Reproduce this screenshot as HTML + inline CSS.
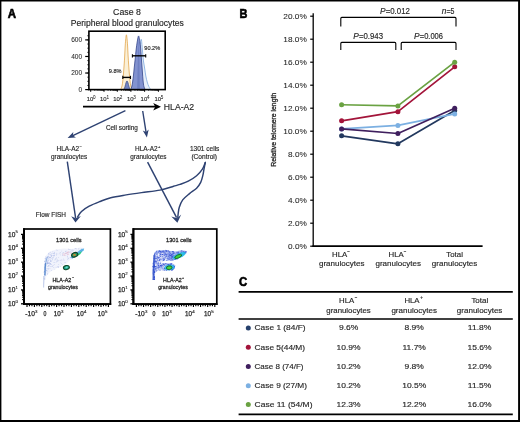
<!DOCTYPE html>
<html><head><meta charset="utf-8"><style>
html,body{margin:0;padding:0;background:#fff;}
body{width:520px;height:422px;overflow:hidden;}
svg{display:block;will-change:transform;font-family:"Liberation Sans",sans-serif;}
</style></head><body>
<svg width="520" height="422" viewBox="0 0 520 422">
<rect width="520" height="422" fill="#fff"/>
<rect x="0.00" y="0.00" width="520.00" height="1.50" fill="#000" />
<rect x="0.00" y="0.00" width="1.40" height="422.00" fill="#000" />
<rect x="518.10" y="0.00" width="1.90" height="422.00" fill="#000" />
<rect x="0.00" y="420.00" width="520.00" height="2.00" fill="#000" />
<text x="7.70" y="17.80" font-size="12" fill="#000" stroke="#000" stroke-width="0.6" textLength="8.30" lengthAdjust="spacingAndGlyphs" font-weight="bold" >A</text>
<text x="113.10" y="14.90" font-size="9" fill="#262626" stroke="#262626" stroke-width="0.15" textLength="27.80" lengthAdjust="spacingAndGlyphs" >Case 8</text>
<text x="70.80" y="25.90" font-size="8.7" fill="#262626" stroke="#262626" stroke-width="0.15" textLength="113.00" lengthAdjust="spacingAndGlyphs" >Peripheral blood granulocytes</text>
<path d="M120.60,89.60 C120.83,89.00 121.62,87.60 122.00,86.00 C122.38,84.40 122.63,82.33 122.90,80.00 C123.17,77.67 123.38,74.67 123.60,72.00 C123.82,69.33 124.02,66.67 124.20,64.00 C124.38,61.33 124.53,59.00 124.70,56.00 C124.87,53.00 125.02,48.92 125.20,46.00 C125.38,43.08 125.60,40.37 125.80,38.50 C126.00,36.63 126.20,34.80 126.40,34.80 C126.60,34.80 126.80,36.63 127.00,38.50 C127.20,40.37 127.42,43.08 127.60,46.00 C127.78,48.92 127.93,53.00 128.10,56.00 C128.27,59.00 128.42,61.33 128.60,64.00 C128.78,66.67 128.98,69.33 129.20,72.00 C129.42,74.67 129.63,77.67 129.90,80.00 C130.17,82.33 130.42,84.40 130.80,86.00 C131.18,87.60 131.97,89.00 132.20,89.60 Z" fill="#fbeed2" fill-opacity="0.9" stroke="#e4aa55" stroke-width="0.85"/>
<path d="M132.50,89.60 C132.78,88.33 133.65,84.93 134.20,82.00 C134.75,79.07 135.27,75.33 135.80,72.00 C136.33,68.67 136.87,65.50 137.40,62.00 C137.93,58.50 138.52,54.17 139.00,51.00 C139.48,47.83 139.92,44.95 140.30,43.00 C140.68,41.05 141.03,39.05 141.30,39.30 C141.57,39.55 141.70,42.55 141.90,44.50 C142.10,46.45 142.27,48.42 142.50,51.00 C142.73,53.58 142.95,57.17 143.30,60.00 C143.65,62.83 144.18,65.33 144.60,68.00 C145.02,70.67 145.37,73.67 145.80,76.00 C146.23,78.33 146.70,80.25 147.20,82.00 C147.70,83.75 148.20,85.23 148.80,86.50 C149.40,87.77 150.47,89.08 150.80,89.60 Z" fill="#e4edf9" fill-opacity="0.9" stroke="#94b8e4" stroke-width="1.0"/>
<path d="M130.60,89.60 C130.78,89.17 131.37,88.27 131.70,87.00 C132.03,85.73 132.30,84.00 132.60,82.00 C132.90,80.00 133.22,77.50 133.50,75.00 C133.78,72.50 134.02,69.67 134.30,67.00 C134.58,64.33 134.90,61.83 135.20,59.00 C135.50,56.17 135.77,52.83 136.10,50.00 C136.43,47.17 136.78,44.35 137.20,42.00 C137.62,39.65 138.15,35.90 138.60,35.90 C139.05,35.90 139.57,39.98 139.90,42.00 C140.23,44.02 140.38,45.67 140.60,48.00 C140.82,50.33 141.00,53.33 141.20,56.00 C141.40,58.67 141.60,61.33 141.80,64.00 C142.00,66.67 142.20,69.33 142.40,72.00 C142.60,74.67 142.78,77.75 143.00,80.00 C143.22,82.25 143.37,83.90 143.70,85.50 C144.03,87.10 144.78,88.92 145.00,89.60 Z" fill="#8292d0" stroke="#34458a" stroke-width="0.8"/>
<path d="M137.2,89.6 L137.8,60 L138.6,40 L139.3,60 L139.8,89.6 Z" fill="#4a5ea8" fill-opacity="0.35"/>
<path d="M123.80,89.60 C124.00,89.08 124.62,87.68 125.00,86.50 C125.38,85.32 125.77,83.43 126.10,82.50 C126.43,81.57 126.70,80.90 127.00,80.90 C127.30,80.90 127.57,81.57 127.90,82.50 C128.23,83.43 128.62,85.32 129.00,86.50 C129.38,87.68 130.00,89.08 130.20,89.60 Z" fill="#7284c4" stroke="#34457f" stroke-width="0.7"/>
<rect x="88.9" y="31.2" width="76.30" height="58.40" fill="none" stroke="#000" stroke-width="1.6"/>
<line x1="85.20" y1="89.60" x2="88.90" y2="89.60" stroke="#000" stroke-width="1.2" />
<line x1="85.20" y1="73.03" x2="88.90" y2="73.03" stroke="#000" stroke-width="1.2" />
<line x1="85.20" y1="56.47" x2="88.90" y2="56.47" stroke="#000" stroke-width="1.2" />
<line x1="85.20" y1="39.90" x2="88.90" y2="39.90" stroke="#000" stroke-width="1.2" />
<line x1="87.30" y1="89.60" x2="88.90" y2="89.60" stroke="#000" stroke-width="0.8" />
<line x1="87.30" y1="85.46" x2="88.90" y2="85.46" stroke="#000" stroke-width="0.8" />
<line x1="87.30" y1="81.32" x2="88.90" y2="81.32" stroke="#000" stroke-width="0.8" />
<line x1="87.30" y1="77.17" x2="88.90" y2="77.17" stroke="#000" stroke-width="0.8" />
<line x1="87.30" y1="73.03" x2="88.90" y2="73.03" stroke="#000" stroke-width="0.8" />
<line x1="87.30" y1="68.89" x2="88.90" y2="68.89" stroke="#000" stroke-width="0.8" />
<line x1="87.30" y1="64.75" x2="88.90" y2="64.75" stroke="#000" stroke-width="0.8" />
<line x1="87.30" y1="60.61" x2="88.90" y2="60.61" stroke="#000" stroke-width="0.8" />
<line x1="87.30" y1="56.47" x2="88.90" y2="56.47" stroke="#000" stroke-width="0.8" />
<line x1="87.30" y1="52.33" x2="88.90" y2="52.33" stroke="#000" stroke-width="0.8" />
<line x1="87.30" y1="48.18" x2="88.90" y2="48.18" stroke="#000" stroke-width="0.8" />
<line x1="87.30" y1="44.04" x2="88.90" y2="44.04" stroke="#000" stroke-width="0.8" />
<line x1="87.30" y1="39.90" x2="88.90" y2="39.90" stroke="#000" stroke-width="0.8" />
<line x1="87.30" y1="35.76" x2="88.90" y2="35.76" stroke="#000" stroke-width="0.8" />
<text x="71.19" y="42.20" font-size="6.6" fill="#262626" stroke="#262626" stroke-width="0.05" >600</text>
<text x="71.19" y="58.77" font-size="6.6" fill="#262626" stroke="#262626" stroke-width="0.05" >400</text>
<text x="71.19" y="75.33" font-size="6.6" fill="#262626" stroke="#262626" stroke-width="0.05" >200</text>
<text x="78.53" y="91.90" font-size="6.6" fill="#262626" stroke="#262626" stroke-width="0.05" >0</text>
<line x1="90.70" y1="89.60" x2="90.70" y2="91.80" stroke="#000" stroke-width="1.0" />
<line x1="94.79" y1="89.60" x2="94.79" y2="90.90" stroke="#000" stroke-width="0.7" />
<line x1="97.19" y1="89.60" x2="97.19" y2="90.90" stroke="#000" stroke-width="0.7" />
<line x1="98.89" y1="89.60" x2="98.89" y2="90.90" stroke="#000" stroke-width="0.7" />
<line x1="100.21" y1="89.60" x2="100.21" y2="90.90" stroke="#000" stroke-width="0.7" />
<line x1="101.28" y1="89.60" x2="101.28" y2="90.90" stroke="#000" stroke-width="0.7" />
<line x1="102.19" y1="89.60" x2="102.19" y2="90.90" stroke="#000" stroke-width="0.7" />
<line x1="102.98" y1="89.60" x2="102.98" y2="90.90" stroke="#000" stroke-width="0.7" />
<line x1="103.68" y1="89.60" x2="103.68" y2="90.90" stroke="#000" stroke-width="0.7" />
<text x="86.70" y="101.30" font-size="6.2" fill="#262626" stroke="#262626" stroke-width="0.12" textLength="6.60" lengthAdjust="spacingAndGlyphs" >10</text>
<text x="93.10" y="98.50" font-size="4.6" fill="#262626" stroke="#262626" stroke-width="0.05" >0</text>
<line x1="104.00" y1="89.60" x2="104.00" y2="91.80" stroke="#000" stroke-width="1.0" />
<line x1="108.09" y1="89.60" x2="108.09" y2="90.90" stroke="#000" stroke-width="0.7" />
<line x1="110.49" y1="89.60" x2="110.49" y2="90.90" stroke="#000" stroke-width="0.7" />
<line x1="112.19" y1="89.60" x2="112.19" y2="90.90" stroke="#000" stroke-width="0.7" />
<line x1="113.51" y1="89.60" x2="113.51" y2="90.90" stroke="#000" stroke-width="0.7" />
<line x1="114.58" y1="89.60" x2="114.58" y2="90.90" stroke="#000" stroke-width="0.7" />
<line x1="115.49" y1="89.60" x2="115.49" y2="90.90" stroke="#000" stroke-width="0.7" />
<line x1="116.28" y1="89.60" x2="116.28" y2="90.90" stroke="#000" stroke-width="0.7" />
<line x1="116.98" y1="89.60" x2="116.98" y2="90.90" stroke="#000" stroke-width="0.7" />
<text x="100.00" y="101.30" font-size="6.2" fill="#262626" stroke="#262626" stroke-width="0.12" textLength="6.60" lengthAdjust="spacingAndGlyphs" >10</text>
<text x="106.40" y="98.50" font-size="4.6" fill="#262626" stroke="#262626" stroke-width="0.05" >1</text>
<line x1="117.30" y1="89.60" x2="117.30" y2="91.80" stroke="#000" stroke-width="1.0" />
<line x1="121.39" y1="89.60" x2="121.39" y2="90.90" stroke="#000" stroke-width="0.7" />
<line x1="123.79" y1="89.60" x2="123.79" y2="90.90" stroke="#000" stroke-width="0.7" />
<line x1="125.49" y1="89.60" x2="125.49" y2="90.90" stroke="#000" stroke-width="0.7" />
<line x1="126.81" y1="89.60" x2="126.81" y2="90.90" stroke="#000" stroke-width="0.7" />
<line x1="127.88" y1="89.60" x2="127.88" y2="90.90" stroke="#000" stroke-width="0.7" />
<line x1="128.79" y1="89.60" x2="128.79" y2="90.90" stroke="#000" stroke-width="0.7" />
<line x1="129.58" y1="89.60" x2="129.58" y2="90.90" stroke="#000" stroke-width="0.7" />
<line x1="130.28" y1="89.60" x2="130.28" y2="90.90" stroke="#000" stroke-width="0.7" />
<text x="113.30" y="101.30" font-size="6.2" fill="#262626" stroke="#262626" stroke-width="0.12" textLength="6.60" lengthAdjust="spacingAndGlyphs" >10</text>
<text x="119.70" y="98.50" font-size="4.6" fill="#262626" stroke="#262626" stroke-width="0.05" >2</text>
<line x1="130.90" y1="89.60" x2="130.90" y2="91.80" stroke="#000" stroke-width="1.0" />
<line x1="134.99" y1="89.60" x2="134.99" y2="90.90" stroke="#000" stroke-width="0.7" />
<line x1="137.39" y1="89.60" x2="137.39" y2="90.90" stroke="#000" stroke-width="0.7" />
<line x1="139.09" y1="89.60" x2="139.09" y2="90.90" stroke="#000" stroke-width="0.7" />
<line x1="140.41" y1="89.60" x2="140.41" y2="90.90" stroke="#000" stroke-width="0.7" />
<line x1="141.48" y1="89.60" x2="141.48" y2="90.90" stroke="#000" stroke-width="0.7" />
<line x1="142.39" y1="89.60" x2="142.39" y2="90.90" stroke="#000" stroke-width="0.7" />
<line x1="143.18" y1="89.60" x2="143.18" y2="90.90" stroke="#000" stroke-width="0.7" />
<line x1="143.88" y1="89.60" x2="143.88" y2="90.90" stroke="#000" stroke-width="0.7" />
<text x="126.90" y="101.30" font-size="6.2" fill="#262626" stroke="#262626" stroke-width="0.12" textLength="6.60" lengthAdjust="spacingAndGlyphs" >10</text>
<text x="133.30" y="98.50" font-size="4.6" fill="#262626" stroke="#262626" stroke-width="0.05" >3</text>
<line x1="144.60" y1="89.60" x2="144.60" y2="91.80" stroke="#000" stroke-width="1.0" />
<line x1="148.69" y1="89.60" x2="148.69" y2="90.90" stroke="#000" stroke-width="0.7" />
<line x1="151.09" y1="89.60" x2="151.09" y2="90.90" stroke="#000" stroke-width="0.7" />
<line x1="152.79" y1="89.60" x2="152.79" y2="90.90" stroke="#000" stroke-width="0.7" />
<line x1="154.11" y1="89.60" x2="154.11" y2="90.90" stroke="#000" stroke-width="0.7" />
<line x1="155.18" y1="89.60" x2="155.18" y2="90.90" stroke="#000" stroke-width="0.7" />
<line x1="156.09" y1="89.60" x2="156.09" y2="90.90" stroke="#000" stroke-width="0.7" />
<line x1="156.88" y1="89.60" x2="156.88" y2="90.90" stroke="#000" stroke-width="0.7" />
<line x1="157.58" y1="89.60" x2="157.58" y2="90.90" stroke="#000" stroke-width="0.7" />
<text x="140.60" y="101.30" font-size="6.2" fill="#262626" stroke="#262626" stroke-width="0.12" textLength="6.60" lengthAdjust="spacingAndGlyphs" >10</text>
<text x="147.00" y="98.50" font-size="4.6" fill="#262626" stroke="#262626" stroke-width="0.05" >4</text>
<line x1="158.40" y1="89.60" x2="158.40" y2="91.80" stroke="#000" stroke-width="1.0" />
<text x="154.40" y="101.30" font-size="6.2" fill="#262626" stroke="#262626" stroke-width="0.12" textLength="6.60" lengthAdjust="spacingAndGlyphs" >10</text>
<text x="160.80" y="98.50" font-size="4.6" fill="#262626" stroke="#262626" stroke-width="0.05" >5</text>
<line x1="122.80" y1="77.40" x2="130.50" y2="77.40" stroke="#000" stroke-width="1.4" />
<line x1="122.80" y1="75.80" x2="122.80" y2="79.00" stroke="#000" stroke-width="1.1" />
<line x1="130.50" y1="75.80" x2="130.50" y2="79.00" stroke="#000" stroke-width="1.1" />
<line x1="132.40" y1="55.80" x2="145.70" y2="55.80" stroke="#000" stroke-width="1.4" />
<line x1="132.40" y1="54.20" x2="132.40" y2="57.40" stroke="#000" stroke-width="1.1" />
<line x1="145.70" y1="54.20" x2="145.70" y2="57.40" stroke="#000" stroke-width="1.1" />
<text x="108.80" y="72.80" font-size="5.8" fill="#262626" stroke="#262626" stroke-width="0.15" textLength="12.70" lengthAdjust="spacingAndGlyphs" >9.8%</text>
<text x="144.30" y="49.80" font-size="5.8" fill="#262626" stroke="#262626" stroke-width="0.15" textLength="15.90" lengthAdjust="spacingAndGlyphs" >90.2%</text>
<line x1="83.00" y1="106.70" x2="156.00" y2="106.70" stroke="#000" stroke-width="1.7" />
<path d="M161.0,106.7 L153.2,102.9 L155.2,106.7 L153.2,110.5 Z" fill="#000"/>
<text x="163.80" y="109.60" font-size="8.7" fill="#262626" stroke="#262626" stroke-width="0.15" textLength="30.40" lengthAdjust="spacingAndGlyphs" >HLA-A2</text>
<path d="M67.60,138.10 L73.32,131.96 L72.84,135.62 L75.98,137.56 Z" fill="#2e4272"/>
<line x1="125.40" y1="110.70" x2="72.84" y2="135.62" stroke="#2e4272" stroke-width="1.4" />
<path d="M146.90,137.50 L142.76,130.56 L146.04,132.07 L148.69,129.62 Z" fill="#2e4272"/>
<line x1="142.70" y1="111.00" x2="146.04" y2="132.07" stroke="#2e4272" stroke-width="1.4" />
<text x="105.90" y="130.10" font-size="6.6" fill="#262626" stroke="#262626" stroke-width="0.15" textLength="32.00" lengthAdjust="spacingAndGlyphs" >Cell sorting</text>
<text x="56.50" y="150.60" font-size="6.5" fill="#262626" stroke="#262626" stroke-width="0.15" textLength="22.60" lengthAdjust="spacingAndGlyphs" >HLA-A2</text>
<text x="79.60" y="147.60" font-size="4.0" fill="#262626" stroke="#262626" stroke-width="0.15" >−</text>
<text x="51.00" y="158.50" font-size="6.5" fill="#262626" stroke="#262626" stroke-width="0.15" textLength="36.30" lengthAdjust="spacingAndGlyphs" >granulocytes</text>
<text x="135.00" y="150.60" font-size="6.5" fill="#262626" stroke="#262626" stroke-width="0.15" textLength="22.60" lengthAdjust="spacingAndGlyphs" >HLA-A2</text>
<text x="157.90" y="147.60" font-size="4.0" fill="#262626" stroke="#262626" stroke-width="0.15" >+</text>
<text x="130.30" y="158.50" font-size="6.5" fill="#262626" stroke="#262626" stroke-width="0.15" textLength="36.20" lengthAdjust="spacingAndGlyphs" >granulocytes</text>
<text x="189.90" y="150.90" font-size="6.5" fill="#262626" stroke="#262626" stroke-width="0.15" textLength="29.50" lengthAdjust="spacingAndGlyphs" >1301 cells</text>
<text x="191.40" y="158.80" font-size="6.5" fill="#262626" stroke="#262626" stroke-width="0.15" textLength="25.60" lengthAdjust="spacingAndGlyphs" >(Control)</text>
<path d="M75.5,222.6 L71.2,216.2 L75.8,218.3 L80.9,215.9 Z" fill="#2e4272"/>
<line x1="67.30" y1="161.70" x2="75.60" y2="218.00" stroke="#2e4272" stroke-width="1.45" />
<path d="M177.4,222.7 L171.3,216.6 L177.2,218.2 L181.2,214.5 Z" fill="#2e4272"/>
<line x1="147.60" y1="162.20" x2="176.60" y2="217.60" stroke="#2e4272" stroke-width="1.45" />
<path d="M205.30,162.50 C204.82,163.60 203.85,166.90 202.40,169.10 C200.95,171.30 198.95,173.70 196.60,175.70 C194.25,177.70 191.07,179.65 188.30,181.10 C185.53,182.55 182.45,183.53 180.00,184.40 C177.55,185.27 176.93,185.35 173.60,186.30 C170.27,187.25 165.35,189.05 160.00,190.10 C154.65,191.15 147.13,191.80 141.50,192.60 C135.87,193.40 131.32,194.05 126.20,194.90 C121.08,195.75 115.17,196.60 110.80,197.70 C106.43,198.80 103.60,200.08 100.00,201.50 C96.40,202.92 92.28,204.53 89.20,206.20 C86.12,207.87 83.43,209.70 81.50,211.50 C79.57,213.30 78.25,216.08 77.60,217.00" fill="none" stroke="#2e4272" stroke-width="1.45" stroke-linecap="round"/>
<path d="M205.30,162.50 C205.08,163.60 204.42,166.90 204.00,169.10 C203.58,171.30 203.35,173.48 202.80,175.70 C202.25,177.92 201.73,180.32 200.70,182.40 C199.67,184.48 198.47,186.33 196.60,188.20 C194.73,190.07 191.82,191.65 189.50,193.60 C187.18,195.55 184.40,197.62 182.70,199.90 C181.00,202.18 180.05,205.03 179.30,207.30 C178.55,209.57 178.45,211.80 178.20,213.50 C177.95,215.20 177.87,216.83 177.80,217.50" fill="none" stroke="#2e4272" stroke-width="1.45" stroke-linecap="round"/>
<text x="35.80" y="217.10" font-size="6.6" fill="#262626" stroke="#262626" stroke-width="0.15" textLength="30.20" lengthAdjust="spacingAndGlyphs" >Flow FISH</text>
<rect x="24.0" y="229.0" width="86.40" height="75.10" fill="none" stroke="#000" stroke-width="1.7"/>
<line x1="24.00" y1="228.20" x2="24.00" y2="304.90" stroke="#000" stroke-width="2.0" />
<line x1="23.20" y1="304.10" x2="111.20" y2="304.10" stroke="#000" stroke-width="1.9" />
<line x1="21.00" y1="234.40" x2="24.00" y2="234.40" stroke="#000" stroke-width="1.3" />
<text x="8.00" y="236.50" font-size="6.4" fill="#262626" stroke="#262626" stroke-width="0.25" textLength="7.30" lengthAdjust="spacingAndGlyphs" >10</text>
<text x="15.40" y="233.30" font-size="4.4" fill="#262626" stroke="#262626" stroke-width="0.12" >5</text>
<line x1="21.00" y1="248.28" x2="24.00" y2="248.28" stroke="#000" stroke-width="1.3" />
<text x="8.00" y="250.38" font-size="6.4" fill="#262626" stroke="#262626" stroke-width="0.25" textLength="7.30" lengthAdjust="spacingAndGlyphs" >10</text>
<text x="15.40" y="247.18" font-size="4.4" fill="#262626" stroke="#262626" stroke-width="0.12" >4</text>
<line x1="21.00" y1="262.16" x2="24.00" y2="262.16" stroke="#000" stroke-width="1.3" />
<text x="8.00" y="264.26" font-size="6.4" fill="#262626" stroke="#262626" stroke-width="0.25" textLength="7.30" lengthAdjust="spacingAndGlyphs" >10</text>
<text x="15.40" y="261.06" font-size="4.4" fill="#262626" stroke="#262626" stroke-width="0.12" >3</text>
<line x1="21.00" y1="276.04" x2="24.00" y2="276.04" stroke="#000" stroke-width="1.3" />
<text x="8.00" y="278.14" font-size="6.4" fill="#262626" stroke="#262626" stroke-width="0.25" textLength="7.30" lengthAdjust="spacingAndGlyphs" >10</text>
<text x="15.40" y="274.94" font-size="4.4" fill="#262626" stroke="#262626" stroke-width="0.12" >2</text>
<line x1="21.00" y1="289.92" x2="24.00" y2="289.92" stroke="#000" stroke-width="1.3" />
<text x="8.00" y="292.02" font-size="6.4" fill="#262626" stroke="#262626" stroke-width="0.25" textLength="7.30" lengthAdjust="spacingAndGlyphs" >10</text>
<text x="15.40" y="288.82" font-size="4.4" fill="#262626" stroke="#262626" stroke-width="0.12" >1</text>
<line x1="21.00" y1="303.80" x2="24.00" y2="303.80" stroke="#000" stroke-width="1.3" />
<text x="8.00" y="305.90" font-size="6.4" fill="#262626" stroke="#262626" stroke-width="0.25" textLength="7.30" lengthAdjust="spacingAndGlyphs" >10</text>
<text x="15.40" y="302.70" font-size="4.4" fill="#262626" stroke="#262626" stroke-width="0.12" >0</text>
<line x1="22.00" y1="244.10" x2="24.00" y2="244.10" stroke="#000" stroke-width="1.0" />
<line x1="22.00" y1="241.66" x2="24.00" y2="241.66" stroke="#000" stroke-width="1.0" />
<line x1="22.00" y1="239.92" x2="24.00" y2="239.92" stroke="#000" stroke-width="1.0" />
<line x1="22.00" y1="238.58" x2="24.00" y2="238.58" stroke="#000" stroke-width="1.0" />
<line x1="22.00" y1="237.48" x2="24.00" y2="237.48" stroke="#000" stroke-width="1.0" />
<line x1="22.00" y1="236.55" x2="24.00" y2="236.55" stroke="#000" stroke-width="1.0" />
<line x1="22.00" y1="235.75" x2="24.00" y2="235.75" stroke="#000" stroke-width="1.0" />
<line x1="22.00" y1="235.04" x2="24.00" y2="235.04" stroke="#000" stroke-width="1.0" />
<line x1="22.00" y1="257.98" x2="24.00" y2="257.98" stroke="#000" stroke-width="1.0" />
<line x1="22.00" y1="255.54" x2="24.00" y2="255.54" stroke="#000" stroke-width="1.0" />
<line x1="22.00" y1="253.80" x2="24.00" y2="253.80" stroke="#000" stroke-width="1.0" />
<line x1="22.00" y1="252.46" x2="24.00" y2="252.46" stroke="#000" stroke-width="1.0" />
<line x1="22.00" y1="251.36" x2="24.00" y2="251.36" stroke="#000" stroke-width="1.0" />
<line x1="22.00" y1="250.43" x2="24.00" y2="250.43" stroke="#000" stroke-width="1.0" />
<line x1="22.00" y1="249.63" x2="24.00" y2="249.63" stroke="#000" stroke-width="1.0" />
<line x1="22.00" y1="248.92" x2="24.00" y2="248.92" stroke="#000" stroke-width="1.0" />
<line x1="22.00" y1="271.86" x2="24.00" y2="271.86" stroke="#000" stroke-width="1.0" />
<line x1="22.00" y1="269.42" x2="24.00" y2="269.42" stroke="#000" stroke-width="1.0" />
<line x1="22.00" y1="267.68" x2="24.00" y2="267.68" stroke="#000" stroke-width="1.0" />
<line x1="22.00" y1="266.34" x2="24.00" y2="266.34" stroke="#000" stroke-width="1.0" />
<line x1="22.00" y1="265.24" x2="24.00" y2="265.24" stroke="#000" stroke-width="1.0" />
<line x1="22.00" y1="264.31" x2="24.00" y2="264.31" stroke="#000" stroke-width="1.0" />
<line x1="22.00" y1="263.51" x2="24.00" y2="263.51" stroke="#000" stroke-width="1.0" />
<line x1="22.00" y1="262.80" x2="24.00" y2="262.80" stroke="#000" stroke-width="1.0" />
<line x1="22.00" y1="285.74" x2="24.00" y2="285.74" stroke="#000" stroke-width="1.0" />
<line x1="22.00" y1="283.30" x2="24.00" y2="283.30" stroke="#000" stroke-width="1.0" />
<line x1="22.00" y1="281.56" x2="24.00" y2="281.56" stroke="#000" stroke-width="1.0" />
<line x1="22.00" y1="280.22" x2="24.00" y2="280.22" stroke="#000" stroke-width="1.0" />
<line x1="22.00" y1="279.12" x2="24.00" y2="279.12" stroke="#000" stroke-width="1.0" />
<line x1="22.00" y1="278.19" x2="24.00" y2="278.19" stroke="#000" stroke-width="1.0" />
<line x1="22.00" y1="277.39" x2="24.00" y2="277.39" stroke="#000" stroke-width="1.0" />
<line x1="22.00" y1="276.68" x2="24.00" y2="276.68" stroke="#000" stroke-width="1.0" />
<line x1="22.00" y1="299.62" x2="24.00" y2="299.62" stroke="#000" stroke-width="1.0" />
<line x1="22.00" y1="297.18" x2="24.00" y2="297.18" stroke="#000" stroke-width="1.0" />
<line x1="22.00" y1="295.44" x2="24.00" y2="295.44" stroke="#000" stroke-width="1.0" />
<line x1="22.00" y1="294.10" x2="24.00" y2="294.10" stroke="#000" stroke-width="1.0" />
<line x1="22.00" y1="293.00" x2="24.00" y2="293.00" stroke="#000" stroke-width="1.0" />
<line x1="22.00" y1="292.07" x2="24.00" y2="292.07" stroke="#000" stroke-width="1.0" />
<line x1="22.00" y1="291.27" x2="24.00" y2="291.27" stroke="#000" stroke-width="1.0" />
<line x1="22.00" y1="290.56" x2="24.00" y2="290.56" stroke="#000" stroke-width="1.0" />
<line x1="27.00" y1="304.10" x2="27.00" y2="307.00" stroke="#000" stroke-width="1.15" />
<line x1="29.47" y1="304.10" x2="29.47" y2="306.30" stroke="#000" stroke-width="1.15" />
<line x1="31.93" y1="304.10" x2="31.93" y2="306.30" stroke="#000" stroke-width="1.15" />
<line x1="34.40" y1="304.10" x2="34.40" y2="307.00" stroke="#000" stroke-width="1.15" />
<line x1="36.87" y1="304.10" x2="36.87" y2="306.30" stroke="#000" stroke-width="1.15" />
<line x1="39.33" y1="304.10" x2="39.33" y2="306.30" stroke="#000" stroke-width="1.15" />
<line x1="41.80" y1="304.10" x2="41.80" y2="307.00" stroke="#000" stroke-width="1.15" />
<line x1="44.27" y1="304.10" x2="44.27" y2="306.30" stroke="#000" stroke-width="1.15" />
<line x1="46.73" y1="304.10" x2="46.73" y2="306.30" stroke="#000" stroke-width="1.15" />
<line x1="49.20" y1="304.10" x2="49.20" y2="307.00" stroke="#000" stroke-width="1.15" />
<line x1="51.67" y1="304.10" x2="51.67" y2="306.30" stroke="#000" stroke-width="1.15" />
<line x1="54.13" y1="304.10" x2="54.13" y2="306.30" stroke="#000" stroke-width="1.15" />
<line x1="56.60" y1="304.10" x2="56.60" y2="307.00" stroke="#000" stroke-width="1.15" />
<line x1="59.07" y1="304.10" x2="59.07" y2="306.30" stroke="#000" stroke-width="1.15" />
<line x1="61.53" y1="304.10" x2="61.53" y2="306.30" stroke="#000" stroke-width="1.15" />
<line x1="64.00" y1="304.10" x2="64.00" y2="307.00" stroke="#000" stroke-width="1.15" />
<line x1="66.47" y1="304.10" x2="66.47" y2="306.30" stroke="#000" stroke-width="1.15" />
<line x1="68.93" y1="304.10" x2="68.93" y2="306.30" stroke="#000" stroke-width="1.15" />
<line x1="71.40" y1="304.10" x2="71.40" y2="307.00" stroke="#000" stroke-width="1.15" />
<line x1="73.87" y1="304.10" x2="73.87" y2="306.30" stroke="#000" stroke-width="1.15" />
<line x1="76.33" y1="304.10" x2="76.33" y2="306.30" stroke="#000" stroke-width="1.15" />
<line x1="78.80" y1="304.10" x2="78.80" y2="307.00" stroke="#000" stroke-width="1.15" />
<line x1="81.27" y1="304.10" x2="81.27" y2="306.30" stroke="#000" stroke-width="1.15" />
<line x1="83.73" y1="304.10" x2="83.73" y2="306.30" stroke="#000" stroke-width="1.15" />
<line x1="86.20" y1="304.10" x2="86.20" y2="307.00" stroke="#000" stroke-width="1.15" />
<line x1="88.67" y1="304.10" x2="88.67" y2="306.30" stroke="#000" stroke-width="1.15" />
<line x1="91.13" y1="304.10" x2="91.13" y2="306.30" stroke="#000" stroke-width="1.15" />
<line x1="93.60" y1="304.10" x2="93.60" y2="307.00" stroke="#000" stroke-width="1.15" />
<line x1="96.07" y1="304.10" x2="96.07" y2="306.30" stroke="#000" stroke-width="1.15" />
<line x1="98.53" y1="304.10" x2="98.53" y2="306.30" stroke="#000" stroke-width="1.15" />
<line x1="101.00" y1="304.10" x2="101.00" y2="307.00" stroke="#000" stroke-width="1.15" />
<line x1="103.47" y1="304.10" x2="103.47" y2="306.30" stroke="#000" stroke-width="1.15" />
<line x1="105.93" y1="304.10" x2="105.93" y2="306.30" stroke="#000" stroke-width="1.15" />
<line x1="108.40" y1="304.10" x2="108.40" y2="307.00" stroke="#000" stroke-width="1.15" />
<text x="25.30" y="316.40" font-size="6.4" fill="#262626" stroke="#262626" stroke-width="0.25" textLength="9.60" lengthAdjust="spacingAndGlyphs" >-10</text>
<text x="35.10" y="313.20" font-size="4.4" fill="#262626" stroke="#262626" stroke-width="0.15" >3</text>
<text x="43.60" y="316.40" font-size="6.4" fill="#262626" stroke="#262626" stroke-width="0.25" textLength="2.90" lengthAdjust="spacingAndGlyphs" >0</text>
<text x="53.70" y="316.40" font-size="6.4" fill="#262626" stroke="#262626" stroke-width="0.25" textLength="7.00" lengthAdjust="spacingAndGlyphs" >10</text>
<text x="60.90" y="313.20" font-size="4.4" fill="#262626" stroke="#262626" stroke-width="0.15" >3</text>
<text x="76.80" y="316.40" font-size="6.4" fill="#262626" stroke="#262626" stroke-width="0.25" textLength="7.00" lengthAdjust="spacingAndGlyphs" >10</text>
<text x="84.00" y="313.20" font-size="4.4" fill="#262626" stroke="#262626" stroke-width="0.15" >4</text>
<text x="97.70" y="316.40" font-size="6.4" fill="#262626" stroke="#262626" stroke-width="0.25" textLength="7.00" lengthAdjust="spacingAndGlyphs" >10</text>
<text x="104.90" y="313.20" font-size="4.4" fill="#262626" stroke="#262626" stroke-width="0.15" >5</text>
<rect x="133.4" y="229.0" width="83.40" height="75.10" fill="none" stroke="#000" stroke-width="1.7"/>
<line x1="133.40" y1="228.20" x2="133.40" y2="304.90" stroke="#000" stroke-width="2.0" />
<line x1="132.60" y1="304.10" x2="217.60" y2="304.10" stroke="#000" stroke-width="1.9" />
<line x1="130.40" y1="234.40" x2="133.40" y2="234.40" stroke="#000" stroke-width="1.3" />
<text x="117.90" y="236.50" font-size="6.4" fill="#262626" stroke="#262626" stroke-width="0.25" textLength="7.30" lengthAdjust="spacingAndGlyphs" >10</text>
<text x="125.30" y="233.30" font-size="4.4" fill="#262626" stroke="#262626" stroke-width="0.12" >5</text>
<line x1="130.40" y1="248.28" x2="133.40" y2="248.28" stroke="#000" stroke-width="1.3" />
<text x="117.90" y="250.38" font-size="6.4" fill="#262626" stroke="#262626" stroke-width="0.25" textLength="7.30" lengthAdjust="spacingAndGlyphs" >10</text>
<text x="125.30" y="247.18" font-size="4.4" fill="#262626" stroke="#262626" stroke-width="0.12" >4</text>
<line x1="130.40" y1="262.16" x2="133.40" y2="262.16" stroke="#000" stroke-width="1.3" />
<text x="117.90" y="264.26" font-size="6.4" fill="#262626" stroke="#262626" stroke-width="0.25" textLength="7.30" lengthAdjust="spacingAndGlyphs" >10</text>
<text x="125.30" y="261.06" font-size="4.4" fill="#262626" stroke="#262626" stroke-width="0.12" >3</text>
<line x1="130.40" y1="276.04" x2="133.40" y2="276.04" stroke="#000" stroke-width="1.3" />
<text x="117.90" y="278.14" font-size="6.4" fill="#262626" stroke="#262626" stroke-width="0.25" textLength="7.30" lengthAdjust="spacingAndGlyphs" >10</text>
<text x="125.30" y="274.94" font-size="4.4" fill="#262626" stroke="#262626" stroke-width="0.12" >2</text>
<line x1="130.40" y1="289.92" x2="133.40" y2="289.92" stroke="#000" stroke-width="1.3" />
<text x="117.90" y="292.02" font-size="6.4" fill="#262626" stroke="#262626" stroke-width="0.25" textLength="7.30" lengthAdjust="spacingAndGlyphs" >10</text>
<text x="125.30" y="288.82" font-size="4.4" fill="#262626" stroke="#262626" stroke-width="0.12" >1</text>
<line x1="130.40" y1="303.80" x2="133.40" y2="303.80" stroke="#000" stroke-width="1.3" />
<text x="117.90" y="305.90" font-size="6.4" fill="#262626" stroke="#262626" stroke-width="0.25" textLength="7.30" lengthAdjust="spacingAndGlyphs" >10</text>
<text x="125.30" y="302.70" font-size="4.4" fill="#262626" stroke="#262626" stroke-width="0.12" >0</text>
<line x1="131.40" y1="244.10" x2="133.40" y2="244.10" stroke="#000" stroke-width="1.0" />
<line x1="131.40" y1="241.66" x2="133.40" y2="241.66" stroke="#000" stroke-width="1.0" />
<line x1="131.40" y1="239.92" x2="133.40" y2="239.92" stroke="#000" stroke-width="1.0" />
<line x1="131.40" y1="238.58" x2="133.40" y2="238.58" stroke="#000" stroke-width="1.0" />
<line x1="131.40" y1="237.48" x2="133.40" y2="237.48" stroke="#000" stroke-width="1.0" />
<line x1="131.40" y1="236.55" x2="133.40" y2="236.55" stroke="#000" stroke-width="1.0" />
<line x1="131.40" y1="235.75" x2="133.40" y2="235.75" stroke="#000" stroke-width="1.0" />
<line x1="131.40" y1="235.04" x2="133.40" y2="235.04" stroke="#000" stroke-width="1.0" />
<line x1="131.40" y1="257.98" x2="133.40" y2="257.98" stroke="#000" stroke-width="1.0" />
<line x1="131.40" y1="255.54" x2="133.40" y2="255.54" stroke="#000" stroke-width="1.0" />
<line x1="131.40" y1="253.80" x2="133.40" y2="253.80" stroke="#000" stroke-width="1.0" />
<line x1="131.40" y1="252.46" x2="133.40" y2="252.46" stroke="#000" stroke-width="1.0" />
<line x1="131.40" y1="251.36" x2="133.40" y2="251.36" stroke="#000" stroke-width="1.0" />
<line x1="131.40" y1="250.43" x2="133.40" y2="250.43" stroke="#000" stroke-width="1.0" />
<line x1="131.40" y1="249.63" x2="133.40" y2="249.63" stroke="#000" stroke-width="1.0" />
<line x1="131.40" y1="248.92" x2="133.40" y2="248.92" stroke="#000" stroke-width="1.0" />
<line x1="131.40" y1="271.86" x2="133.40" y2="271.86" stroke="#000" stroke-width="1.0" />
<line x1="131.40" y1="269.42" x2="133.40" y2="269.42" stroke="#000" stroke-width="1.0" />
<line x1="131.40" y1="267.68" x2="133.40" y2="267.68" stroke="#000" stroke-width="1.0" />
<line x1="131.40" y1="266.34" x2="133.40" y2="266.34" stroke="#000" stroke-width="1.0" />
<line x1="131.40" y1="265.24" x2="133.40" y2="265.24" stroke="#000" stroke-width="1.0" />
<line x1="131.40" y1="264.31" x2="133.40" y2="264.31" stroke="#000" stroke-width="1.0" />
<line x1="131.40" y1="263.51" x2="133.40" y2="263.51" stroke="#000" stroke-width="1.0" />
<line x1="131.40" y1="262.80" x2="133.40" y2="262.80" stroke="#000" stroke-width="1.0" />
<line x1="131.40" y1="285.74" x2="133.40" y2="285.74" stroke="#000" stroke-width="1.0" />
<line x1="131.40" y1="283.30" x2="133.40" y2="283.30" stroke="#000" stroke-width="1.0" />
<line x1="131.40" y1="281.56" x2="133.40" y2="281.56" stroke="#000" stroke-width="1.0" />
<line x1="131.40" y1="280.22" x2="133.40" y2="280.22" stroke="#000" stroke-width="1.0" />
<line x1="131.40" y1="279.12" x2="133.40" y2="279.12" stroke="#000" stroke-width="1.0" />
<line x1="131.40" y1="278.19" x2="133.40" y2="278.19" stroke="#000" stroke-width="1.0" />
<line x1="131.40" y1="277.39" x2="133.40" y2="277.39" stroke="#000" stroke-width="1.0" />
<line x1="131.40" y1="276.68" x2="133.40" y2="276.68" stroke="#000" stroke-width="1.0" />
<line x1="131.40" y1="299.62" x2="133.40" y2="299.62" stroke="#000" stroke-width="1.0" />
<line x1="131.40" y1="297.18" x2="133.40" y2="297.18" stroke="#000" stroke-width="1.0" />
<line x1="131.40" y1="295.44" x2="133.40" y2="295.44" stroke="#000" stroke-width="1.0" />
<line x1="131.40" y1="294.10" x2="133.40" y2="294.10" stroke="#000" stroke-width="1.0" />
<line x1="131.40" y1="293.00" x2="133.40" y2="293.00" stroke="#000" stroke-width="1.0" />
<line x1="131.40" y1="292.07" x2="133.40" y2="292.07" stroke="#000" stroke-width="1.0" />
<line x1="131.40" y1="291.27" x2="133.40" y2="291.27" stroke="#000" stroke-width="1.0" />
<line x1="131.40" y1="290.56" x2="133.40" y2="290.56" stroke="#000" stroke-width="1.0" />
<line x1="136.40" y1="304.10" x2="136.40" y2="307.00" stroke="#000" stroke-width="1.15" />
<line x1="138.78" y1="304.10" x2="138.78" y2="306.30" stroke="#000" stroke-width="1.15" />
<line x1="141.15" y1="304.10" x2="141.15" y2="306.30" stroke="#000" stroke-width="1.15" />
<line x1="143.53" y1="304.10" x2="143.53" y2="307.00" stroke="#000" stroke-width="1.15" />
<line x1="145.90" y1="304.10" x2="145.90" y2="306.30" stroke="#000" stroke-width="1.15" />
<line x1="148.28" y1="304.10" x2="148.28" y2="306.30" stroke="#000" stroke-width="1.15" />
<line x1="150.65" y1="304.10" x2="150.65" y2="307.00" stroke="#000" stroke-width="1.15" />
<line x1="153.03" y1="304.10" x2="153.03" y2="306.30" stroke="#000" stroke-width="1.15" />
<line x1="155.41" y1="304.10" x2="155.41" y2="306.30" stroke="#000" stroke-width="1.15" />
<line x1="157.78" y1="304.10" x2="157.78" y2="307.00" stroke="#000" stroke-width="1.15" />
<line x1="160.16" y1="304.10" x2="160.16" y2="306.30" stroke="#000" stroke-width="1.15" />
<line x1="162.53" y1="304.10" x2="162.53" y2="306.30" stroke="#000" stroke-width="1.15" />
<line x1="164.91" y1="304.10" x2="164.91" y2="307.00" stroke="#000" stroke-width="1.15" />
<line x1="167.28" y1="304.10" x2="167.28" y2="306.30" stroke="#000" stroke-width="1.15" />
<line x1="169.66" y1="304.10" x2="169.66" y2="306.30" stroke="#000" stroke-width="1.15" />
<line x1="172.04" y1="304.10" x2="172.04" y2="307.00" stroke="#000" stroke-width="1.15" />
<line x1="174.41" y1="304.10" x2="174.41" y2="306.30" stroke="#000" stroke-width="1.15" />
<line x1="176.79" y1="304.10" x2="176.79" y2="306.30" stroke="#000" stroke-width="1.15" />
<line x1="179.16" y1="304.10" x2="179.16" y2="307.00" stroke="#000" stroke-width="1.15" />
<line x1="181.54" y1="304.10" x2="181.54" y2="306.30" stroke="#000" stroke-width="1.15" />
<line x1="183.92" y1="304.10" x2="183.92" y2="306.30" stroke="#000" stroke-width="1.15" />
<line x1="186.29" y1="304.10" x2="186.29" y2="307.00" stroke="#000" stroke-width="1.15" />
<line x1="188.67" y1="304.10" x2="188.67" y2="306.30" stroke="#000" stroke-width="1.15" />
<line x1="191.04" y1="304.10" x2="191.04" y2="306.30" stroke="#000" stroke-width="1.15" />
<line x1="193.42" y1="304.10" x2="193.42" y2="307.00" stroke="#000" stroke-width="1.15" />
<line x1="195.79" y1="304.10" x2="195.79" y2="306.30" stroke="#000" stroke-width="1.15" />
<line x1="198.17" y1="304.10" x2="198.17" y2="306.30" stroke="#000" stroke-width="1.15" />
<line x1="200.55" y1="304.10" x2="200.55" y2="307.00" stroke="#000" stroke-width="1.15" />
<line x1="202.92" y1="304.10" x2="202.92" y2="306.30" stroke="#000" stroke-width="1.15" />
<line x1="205.30" y1="304.10" x2="205.30" y2="306.30" stroke="#000" stroke-width="1.15" />
<line x1="207.67" y1="304.10" x2="207.67" y2="307.00" stroke="#000" stroke-width="1.15" />
<line x1="210.05" y1="304.10" x2="210.05" y2="306.30" stroke="#000" stroke-width="1.15" />
<line x1="212.42" y1="304.10" x2="212.42" y2="306.30" stroke="#000" stroke-width="1.15" />
<line x1="214.80" y1="304.10" x2="214.80" y2="307.00" stroke="#000" stroke-width="1.15" />
<text x="135.20" y="316.40" font-size="6.4" fill="#262626" stroke="#262626" stroke-width="0.25" textLength="9.60" lengthAdjust="spacingAndGlyphs" >-10</text>
<text x="145.00" y="313.20" font-size="4.4" fill="#262626" stroke="#262626" stroke-width="0.15" >3</text>
<text x="152.60" y="316.40" font-size="6.4" fill="#262626" stroke="#262626" stroke-width="0.25" textLength="2.90" lengthAdjust="spacingAndGlyphs" >0</text>
<text x="162.00" y="316.40" font-size="6.4" fill="#262626" stroke="#262626" stroke-width="0.25" textLength="7.00" lengthAdjust="spacingAndGlyphs" >10</text>
<text x="169.20" y="313.20" font-size="4.4" fill="#262626" stroke="#262626" stroke-width="0.15" >3</text>
<text x="185.00" y="316.40" font-size="6.4" fill="#262626" stroke="#262626" stroke-width="0.25" textLength="7.00" lengthAdjust="spacingAndGlyphs" >10</text>
<text x="192.20" y="313.20" font-size="4.4" fill="#262626" stroke="#262626" stroke-width="0.15" >4</text>
<text x="204.00" y="316.40" font-size="6.4" fill="#262626" stroke="#262626" stroke-width="0.25" textLength="7.00" lengthAdjust="spacingAndGlyphs" >10</text>
<text x="211.20" y="313.20" font-size="4.4" fill="#262626" stroke="#262626" stroke-width="0.15" >5</text>
<path d="M43.80,280.00 L44.00,262.00 L46.00,255.50 L50.00,251.50 L56.00,249.50 L64.00,248.50 L72.00,249.00 L80.00,247.50 L84.00,248.00 L83.00,251.00 L77.00,255.50 L70.00,260.00 L66.00,264.00 L62.00,266.00 L56.00,268.50 L50.00,272.00 L46.50,276.00 L45.30,280.00 Z" fill="#c8d0f2" fill-opacity="0.25" />
<g fill="#8a9cde" fill-opacity="0.5"><circle cx="53.37" cy="265.19" r="0.4"/><circle cx="58.67" cy="267.13" r="0.4"/><circle cx="68.95" cy="249.63" r="0.4"/><circle cx="44.33" cy="274.72" r="0.4"/><circle cx="54.23" cy="255.12" r="0.4"/><circle cx="69.49" cy="252.40" r="0.4"/><circle cx="70.79" cy="249.58" r="0.4"/><circle cx="79.13" cy="250.67" r="0.4"/><circle cx="49.27" cy="254.55" r="0.4"/><circle cx="68.99" cy="257.28" r="0.4"/><circle cx="64.19" cy="260.04" r="0.4"/><circle cx="57.91" cy="266.51" r="0.4"/><circle cx="70.79" cy="252.80" r="0.4"/><circle cx="72.50" cy="254.36" r="0.4"/><circle cx="47.36" cy="273.52" r="0.4"/><circle cx="60.30" cy="252.40" r="0.4"/><circle cx="78.89" cy="248.94" r="0.4"/><circle cx="68.50" cy="248.96" r="0.4"/><circle cx="72.68" cy="258.26" r="0.4"/><circle cx="56.25" cy="250.00" r="0.4"/><circle cx="51.73" cy="260.76" r="0.4"/><circle cx="68.34" cy="252.58" r="0.4"/><circle cx="45.51" cy="275.70" r="0.4"/><circle cx="62.31" cy="264.40" r="0.4"/><circle cx="53.35" cy="257.29" r="0.4"/><circle cx="60.49" cy="266.35" r="0.4"/><circle cx="44.61" cy="267.51" r="0.4"/><circle cx="69.21" cy="249.45" r="0.4"/><circle cx="71.11" cy="258.96" r="0.4"/><circle cx="53.90" cy="262.33" r="0.4"/><circle cx="67.63" cy="257.90" r="0.4"/><circle cx="58.43" cy="257.66" r="0.4"/><circle cx="58.64" cy="266.86" r="0.4"/><circle cx="55.88" cy="259.76" r="0.4"/><circle cx="56.26" cy="254.73" r="0.4"/><circle cx="76.11" cy="255.26" r="0.4"/><circle cx="51.33" cy="261.65" r="0.4"/><circle cx="71.86" cy="250.81" r="0.4"/><circle cx="56.74" cy="258.35" r="0.4"/><circle cx="78.19" cy="253.00" r="0.4"/><circle cx="52.85" cy="251.43" r="0.4"/><circle cx="65.09" cy="253.70" r="0.4"/><circle cx="51.18" cy="256.55" r="0.4"/><circle cx="49.01" cy="256.99" r="0.4"/><circle cx="75.71" cy="256.31" r="0.4"/><circle cx="57.72" cy="261.05" r="0.4"/><circle cx="60.67" cy="260.81" r="0.4"/><circle cx="80.81" cy="252.57" r="0.4"/><circle cx="43.99" cy="278.16" r="0.4"/><circle cx="55.42" cy="258.58" r="0.4"/><circle cx="67.46" cy="256.83" r="0.4"/><circle cx="76.37" cy="248.96" r="0.4"/><circle cx="44.33" cy="271.72" r="0.4"/><circle cx="50.71" cy="257.25" r="0.4"/><circle cx="68.41" cy="258.59" r="0.4"/><circle cx="57.94" cy="253.91" r="0.4"/><circle cx="45.81" cy="256.32" r="0.4"/><circle cx="54.60" cy="264.64" r="0.4"/><circle cx="60.80" cy="262.87" r="0.4"/><circle cx="47.26" cy="263.82" r="0.4"/><circle cx="56.50" cy="257.72" r="0.4"/><circle cx="67.38" cy="259.23" r="0.4"/><circle cx="51.48" cy="258.19" r="0.4"/><circle cx="48.77" cy="265.55" r="0.4"/><circle cx="58.81" cy="267.14" r="0.4"/><circle cx="61.15" cy="259.60" r="0.4"/><circle cx="62.33" cy="255.47" r="0.4"/><circle cx="46.68" cy="261.31" r="0.4"/><circle cx="54.34" cy="262.58" r="0.4"/><circle cx="47.95" cy="266.60" r="0.4"/><circle cx="74.93" cy="248.94" r="0.4"/><circle cx="79.19" cy="253.32" r="0.4"/><circle cx="44.74" cy="274.85" r="0.4"/><circle cx="75.91" cy="248.68" r="0.4"/><circle cx="72.55" cy="250.97" r="0.4"/><circle cx="46.26" cy="258.04" r="0.4"/><circle cx="53.53" cy="253.34" r="0.4"/><circle cx="53.85" cy="267.52" r="0.4"/><circle cx="58.57" cy="260.39" r="0.4"/><circle cx="57.88" cy="261.09" r="0.4"/><circle cx="47.15" cy="263.76" r="0.4"/><circle cx="73.85" cy="252.72" r="0.4"/><circle cx="79.88" cy="252.35" r="0.4"/><circle cx="47.65" cy="271.82" r="0.4"/><circle cx="51.28" cy="256.19" r="0.4"/><circle cx="51.81" cy="266.53" r="0.4"/><circle cx="56.46" cy="255.05" r="0.4"/><circle cx="67.30" cy="256.18" r="0.4"/><circle cx="63.08" cy="259.94" r="0.4"/><circle cx="50.72" cy="259.22" r="0.4"/><circle cx="62.59" cy="254.96" r="0.4"/><circle cx="51.42" cy="255.91" r="0.4"/><circle cx="51.32" cy="270.40" r="0.4"/><circle cx="56.40" cy="261.26" r="0.4"/><circle cx="73.10" cy="250.29" r="0.4"/><circle cx="47.52" cy="274.60" r="0.4"/><circle cx="55.53" cy="259.09" r="0.4"/><circle cx="61.34" cy="263.29" r="0.4"/><circle cx="52.25" cy="266.52" r="0.4"/><circle cx="65.68" cy="251.37" r="0.4"/><circle cx="54.85" cy="269.13" r="0.4"/><circle cx="80.33" cy="250.65" r="0.4"/><circle cx="65.35" cy="251.18" r="0.4"/><circle cx="63.65" cy="258.95" r="0.4"/><circle cx="66.57" cy="253.41" r="0.4"/><circle cx="70.15" cy="251.50" r="0.4"/><circle cx="81.26" cy="252.09" r="0.4"/><circle cx="56.36" cy="253.23" r="0.4"/><circle cx="46.56" cy="270.76" r="0.4"/><circle cx="54.49" cy="259.96" r="0.4"/><circle cx="78.88" cy="248.87" r="0.4"/><circle cx="64.09" cy="255.53" r="0.4"/><circle cx="57.18" cy="260.61" r="0.4"/><circle cx="48.31" cy="256.29" r="0.4"/><circle cx="51.23" cy="253.65" r="0.4"/><circle cx="67.60" cy="252.26" r="0.4"/><circle cx="59.82" cy="253.79" r="0.4"/><circle cx="51.92" cy="255.63" r="0.4"/><circle cx="75.22" cy="248.48" r="0.4"/><circle cx="71.40" cy="257.23" r="0.4"/><circle cx="43.90" cy="272.54" r="0.4"/><circle cx="64.85" cy="262.47" r="0.4"/><circle cx="51.58" cy="264.71" r="0.4"/><circle cx="45.29" cy="263.76" r="0.4"/><circle cx="79.66" cy="251.91" r="0.4"/><circle cx="45.83" cy="259.20" r="0.4"/><circle cx="71.73" cy="251.87" r="0.4"/><circle cx="50.27" cy="263.66" r="0.4"/><circle cx="56.05" cy="262.59" r="0.4"/><circle cx="58.71" cy="264.70" r="0.4"/><circle cx="67.78" cy="254.78" r="0.4"/><circle cx="75.28" cy="252.16" r="0.4"/><circle cx="62.29" cy="253.85" r="0.4"/><circle cx="52.21" cy="253.05" r="0.4"/><circle cx="60.03" cy="252.97" r="0.4"/><circle cx="50.56" cy="263.43" r="0.4"/><circle cx="61.81" cy="260.75" r="0.4"/><circle cx="72.08" cy="249.16" r="0.4"/><circle cx="60.01" cy="260.39" r="0.4"/><circle cx="44.87" cy="278.88" r="0.4"/><circle cx="62.88" cy="252.85" r="0.4"/><circle cx="68.82" cy="258.76" r="0.4"/><circle cx="73.05" cy="256.44" r="0.4"/><circle cx="53.85" cy="256.14" r="0.4"/><circle cx="57.66" cy="250.55" r="0.4"/><circle cx="45.97" cy="268.77" r="0.4"/><circle cx="81.59" cy="248.61" r="0.4"/><circle cx="56.05" cy="267.23" r="0.4"/><circle cx="81.85" cy="250.35" r="0.4"/><circle cx="48.41" cy="260.17" r="0.4"/><circle cx="60.47" cy="254.96" r="0.4"/><circle cx="54.63" cy="253.02" r="0.4"/><circle cx="63.38" cy="252.50" r="0.4"/><circle cx="71.03" cy="250.66" r="0.4"/><circle cx="57.22" cy="259.53" r="0.4"/><circle cx="46.70" cy="260.48" r="0.4"/><circle cx="82.22" cy="250.91" r="0.4"/><circle cx="66.67" cy="251.08" r="0.4"/><circle cx="47.05" cy="268.60" r="0.4"/><circle cx="49.94" cy="268.45" r="0.4"/><circle cx="52.65" cy="265.78" r="0.4"/><circle cx="65.32" cy="253.62" r="0.4"/><circle cx="76.99" cy="251.16" r="0.4"/><circle cx="44.76" cy="278.91" r="0.4"/><circle cx="47.25" cy="262.62" r="0.4"/><circle cx="57.71" cy="267.10" r="0.4"/><circle cx="61.71" cy="251.11" r="0.4"/><circle cx="76.56" cy="254.19" r="0.4"/><circle cx="65.48" cy="262.59" r="0.4"/><circle cx="73.07" cy="250.01" r="0.4"/></g>
<g fill="#7f95dc" fill-opacity="0.55"><circle cx="48.15" cy="262.63" r="0.45"/><circle cx="44.86" cy="264.26" r="0.45"/><circle cx="46.57" cy="259.41" r="0.45"/><circle cx="49.17" cy="253.02" r="0.45"/><circle cx="50.43" cy="261.05" r="0.45"/><circle cx="52.67" cy="258.06" r="0.45"/><circle cx="50.23" cy="266.34" r="0.45"/><circle cx="44.49" cy="268.88" r="0.45"/><circle cx="47.31" cy="261.38" r="0.45"/><circle cx="48.14" cy="268.81" r="0.45"/><circle cx="52.96" cy="257.90" r="0.45"/><circle cx="45.24" cy="258.18" r="0.45"/><circle cx="45.84" cy="269.31" r="0.45"/><circle cx="48.47" cy="254.87" r="0.45"/><circle cx="47.74" cy="262.12" r="0.45"/><circle cx="50.31" cy="264.01" r="0.45"/><circle cx="47.42" cy="262.12" r="0.45"/><circle cx="47.57" cy="256.82" r="0.45"/><circle cx="45.58" cy="263.74" r="0.45"/><circle cx="50.43" cy="254.98" r="0.45"/><circle cx="49.19" cy="259.12" r="0.45"/><circle cx="44.62" cy="264.10" r="0.45"/><circle cx="45.13" cy="258.48" r="0.45"/><circle cx="46.97" cy="270.25" r="0.45"/><circle cx="49.02" cy="257.25" r="0.45"/><circle cx="44.53" cy="261.31" r="0.45"/><circle cx="50.62" cy="257.71" r="0.45"/><circle cx="48.97" cy="263.44" r="0.45"/><circle cx="50.56" cy="260.80" r="0.45"/><circle cx="48.22" cy="261.92" r="0.45"/><circle cx="47.78" cy="263.53" r="0.45"/><circle cx="50.89" cy="264.19" r="0.45"/><circle cx="49.85" cy="257.72" r="0.45"/><circle cx="45.23" cy="267.05" r="0.45"/><circle cx="48.46" cy="263.36" r="0.45"/><circle cx="51.72" cy="255.68" r="0.45"/><circle cx="47.79" cy="257.50" r="0.45"/><circle cx="47.81" cy="260.42" r="0.45"/><circle cx="49.79" cy="257.43" r="0.45"/><circle cx="50.55" cy="252.13" r="0.45"/><circle cx="45.73" cy="272.73" r="0.45"/><circle cx="53.11" cy="255.23" r="0.45"/><circle cx="46.28" cy="270.74" r="0.45"/><circle cx="54.50" cy="252.17" r="0.45"/><circle cx="48.59" cy="253.57" r="0.45"/><circle cx="48.14" cy="268.96" r="0.45"/><circle cx="49.57" cy="263.92" r="0.45"/><circle cx="49.31" cy="263.83" r="0.45"/><circle cx="54.00" cy="255.81" r="0.45"/><circle cx="54.18" cy="255.31" r="0.45"/><circle cx="46.02" cy="257.38" r="0.45"/><circle cx="54.47" cy="253.75" r="0.45"/><circle cx="44.17" cy="271.87" r="0.45"/><circle cx="53.19" cy="253.22" r="0.45"/><circle cx="50.48" cy="261.59" r="0.45"/><circle cx="45.76" cy="265.41" r="0.45"/><circle cx="47.88" cy="263.15" r="0.45"/><circle cx="48.48" cy="258.64" r="0.45"/><circle cx="48.30" cy="265.42" r="0.45"/><circle cx="48.09" cy="266.49" r="0.45"/><circle cx="49.43" cy="262.47" r="0.45"/><circle cx="49.30" cy="265.83" r="0.45"/><circle cx="44.83" cy="261.21" r="0.45"/><circle cx="44.71" cy="271.51" r="0.45"/><circle cx="48.40" cy="256.15" r="0.45"/><circle cx="52.54" cy="259.68" r="0.45"/><circle cx="47.61" cy="263.13" r="0.45"/><circle cx="48.79" cy="259.94" r="0.45"/><circle cx="51.01" cy="254.51" r="0.45"/><circle cx="46.64" cy="259.90" r="0.45"/></g>
<path d="M44.20,276.00 L44.50,266.00 L45.50,260.00 L47.00,256.50 L48.00,257.00 L46.60,262.00 L46.00,268.00 L45.60,276.00 Z" fill="#6a98d8" fill-opacity="0.55" />
<path d="M44.30,275.00 L44.60,266.00 L45.30,263.00 L46.20,263.00 L45.80,268.00 L45.50,275.00 Z" fill="#2f6cc0" fill-opacity="0.6" />
<path d="M43.20,287.50 L43.40,276.00 L44.50,276.00 L44.10,287.50 Z" fill="#7e98d6" fill-opacity="0.55" />
<g fill="#f0a8bc" fill-opacity="0.5"><circle cx="68.15" cy="251.70" r="0.45"/><circle cx="67.34" cy="254.69" r="0.45"/><circle cx="71.13" cy="253.21" r="0.45"/><circle cx="68.82" cy="251.60" r="0.45"/><circle cx="70.80" cy="252.89" r="0.45"/><circle cx="70.32" cy="251.92" r="0.45"/><circle cx="67.12" cy="253.16" r="0.45"/><circle cx="68.29" cy="254.30" r="0.45"/><circle cx="66.80" cy="253.11" r="0.45"/><circle cx="65.32" cy="253.09" r="0.45"/><circle cx="62.88" cy="254.21" r="0.45"/><circle cx="67.24" cy="253.87" r="0.45"/><circle cx="67.39" cy="252.42" r="0.45"/><circle cx="64.99" cy="255.50" r="0.45"/><circle cx="63.33" cy="253.66" r="0.45"/><circle cx="68.20" cy="252.77" r="0.45"/><circle cx="66.33" cy="252.56" r="0.45"/><circle cx="63.94" cy="255.36" r="0.45"/><circle cx="64.16" cy="255.11" r="0.45"/><circle cx="71.14" cy="252.99" r="0.45"/><circle cx="65.84" cy="255.26" r="0.45"/><circle cx="66.01" cy="252.95" r="0.45"/><circle cx="64.63" cy="254.47" r="0.45"/><circle cx="64.20" cy="253.21" r="0.45"/><circle cx="67.65" cy="252.23" r="0.45"/><circle cx="69.00" cy="252.08" r="0.45"/><circle cx="68.71" cy="254.05" r="0.45"/><circle cx="63.76" cy="254.76" r="0.45"/><circle cx="65.94" cy="253.70" r="0.45"/><circle cx="67.98" cy="254.14" r="0.45"/></g>
<path d="M70,257.5 L76,253 L81.5,249 L84.2,248.4 L83.6,250.6 L78.5,254.6 L72.5,258.6 Z" fill="#3aa4e2" fill-opacity="0.8"/>
<path d="M75,256 L79,253 L82,251 L80.5,254 L77,256.5 Z" fill="#22d07a" fill-opacity="0.9"/>
<ellipse cx="74.7" cy="254.8" rx="3.2" ry="2.2" fill="#1f9a66" stroke="#123f25" stroke-width="1.1" transform="rotate(-22 74.7 254.8)"/>
<ellipse cx="74.5" cy="254.9" rx="1.5" ry="1.1" fill="#c08a3a"/>
<ellipse cx="66.4" cy="267.6" rx="3.0" ry="2.0" fill="#22a890" stroke="#124a2a" stroke-width="1.1" transform="rotate(-12 66.4 267.6)"/>
<ellipse cx="66.6" cy="267.4" rx="1.2" ry="0.8" fill="#6ee0d0"/>
<text x="56.00" y="241.80" font-size="5.8" fill="#262626" stroke="#262626" stroke-width="0.27" textLength="25.50" lengthAdjust="spacingAndGlyphs" >1301 cells</text>
<text x="52.50" y="282.00" font-size="5.8" fill="#262626" stroke="#262626" stroke-width="0.27" textLength="18.80" lengthAdjust="spacingAndGlyphs" >HLA-A2</text>
<text x="71.90" y="279.20" font-size="3.6" fill="#262626" stroke="#262626" stroke-width="0.15" >−</text>
<text x="48.00" y="288.50" font-size="5.8" fill="#262626" stroke="#262626" stroke-width="0.27" textLength="29.80" lengthAdjust="spacingAndGlyphs" >granulocytes</text>
<path d="M153.60,256.00 L154.50,252.50 L156.60,250.60 L161.00,250.20 L166.00,250.20 L171.00,251.00 L175.00,251.40 L180.00,250.60 L184.00,250.40 L187.00,251.30 L186.00,253.00 L182.50,256.20 L177.00,259.40 L170.50,260.40 L164.00,261.00 L158.00,261.50 L154.00,262.00 Z" fill="#4a6ae0" fill-opacity="0.45" />
<path d="M153.20,262.00 L158.00,261.50 L164.00,263.60 L172.30,263.20 L175.50,265.40 L174.00,268.50 L172.00,270.20 L164.00,270.40 L157.50,270.40 L155.00,272.00 L154.60,280.00 L152.60,280.00 L152.80,268.00 Z" fill="#4a6ae0" fill-opacity="0.45" />
<g fill="#2440d0" fill-opacity="0.7"><circle cx="168.37" cy="250.86" r="0.5"/><circle cx="169.97" cy="257.03" r="0.5"/><circle cx="162.57" cy="260.80" r="0.5"/><circle cx="176.50" cy="252.82" r="0.5"/><circle cx="169.74" cy="252.31" r="0.5"/><circle cx="177.54" cy="254.20" r="0.5"/><circle cx="178.06" cy="257.08" r="0.5"/><circle cx="157.20" cy="256.43" r="0.5"/><circle cx="182.02" cy="255.84" r="0.5"/><circle cx="168.52" cy="256.01" r="0.5"/><circle cx="173.07" cy="259.92" r="0.5"/><circle cx="160.38" cy="251.30" r="0.5"/><circle cx="179.02" cy="256.72" r="0.5"/><circle cx="163.71" cy="260.73" r="0.5"/><circle cx="178.58" cy="253.64" r="0.5"/><circle cx="153.96" cy="258.21" r="0.5"/><circle cx="178.15" cy="254.34" r="0.5"/><circle cx="169.59" cy="256.89" r="0.5"/><circle cx="161.94" cy="258.43" r="0.5"/><circle cx="172.39" cy="254.75" r="0.5"/><circle cx="157.26" cy="256.74" r="0.5"/><circle cx="164.28" cy="258.75" r="0.5"/><circle cx="159.36" cy="254.85" r="0.5"/><circle cx="160.15" cy="255.02" r="0.5"/><circle cx="172.85" cy="251.46" r="0.5"/><circle cx="155.43" cy="255.89" r="0.5"/><circle cx="160.33" cy="256.16" r="0.5"/><circle cx="159.18" cy="251.39" r="0.5"/><circle cx="166.87" cy="250.98" r="0.5"/><circle cx="162.83" cy="253.91" r="0.5"/><circle cx="185.05" cy="251.58" r="0.5"/><circle cx="168.10" cy="253.29" r="0.5"/><circle cx="185.75" cy="252.40" r="0.5"/><circle cx="172.68" cy="256.23" r="0.5"/><circle cx="160.26" cy="252.83" r="0.5"/><circle cx="156.89" cy="258.50" r="0.5"/><circle cx="178.67" cy="252.86" r="0.5"/><circle cx="164.51" cy="259.20" r="0.5"/><circle cx="159.12" cy="258.07" r="0.5"/><circle cx="162.60" cy="256.20" r="0.5"/><circle cx="166.04" cy="260.47" r="0.5"/><circle cx="178.48" cy="256.15" r="0.5"/><circle cx="176.55" cy="255.25" r="0.5"/><circle cx="180.46" cy="253.24" r="0.5"/><circle cx="171.77" cy="257.11" r="0.5"/><circle cx="166.56" cy="250.75" r="0.5"/><circle cx="159.28" cy="257.76" r="0.5"/><circle cx="160.66" cy="259.15" r="0.5"/><circle cx="166.04" cy="250.71" r="0.5"/><circle cx="172.19" cy="259.00" r="0.5"/><circle cx="184.36" cy="252.59" r="0.5"/><circle cx="178.30" cy="255.92" r="0.5"/><circle cx="178.27" cy="251.96" r="0.5"/><circle cx="171.77" cy="258.09" r="0.5"/><circle cx="173.77" cy="252.10" r="0.5"/><circle cx="158.17" cy="257.57" r="0.5"/><circle cx="183.14" cy="251.83" r="0.5"/><circle cx="179.83" cy="254.81" r="0.5"/><circle cx="174.01" cy="253.31" r="0.5"/><circle cx="163.00" cy="258.44" r="0.5"/><circle cx="159.31" cy="250.59" r="0.5"/><circle cx="170.91" cy="254.07" r="0.5"/><circle cx="186.04" cy="251.40" r="0.5"/><circle cx="180.39" cy="254.78" r="0.5"/><circle cx="180.50" cy="255.45" r="0.5"/><circle cx="175.89" cy="254.05" r="0.5"/><circle cx="161.10" cy="255.54" r="0.5"/><circle cx="180.33" cy="254.27" r="0.5"/><circle cx="161.28" cy="255.11" r="0.5"/><circle cx="156.80" cy="253.93" r="0.5"/><circle cx="172.73" cy="256.64" r="0.5"/><circle cx="173.55" cy="253.62" r="0.5"/><circle cx="164.92" cy="252.52" r="0.5"/><circle cx="172.60" cy="253.33" r="0.5"/><circle cx="179.05" cy="257.30" r="0.5"/><circle cx="175.72" cy="258.88" r="0.5"/><circle cx="171.02" cy="255.23" r="0.5"/><circle cx="163.90" cy="250.94" r="0.5"/><circle cx="180.13" cy="256.10" r="0.5"/><circle cx="156.93" cy="261.13" r="0.5"/><circle cx="173.04" cy="257.56" r="0.5"/><circle cx="168.25" cy="251.69" r="0.5"/><circle cx="157.68" cy="256.09" r="0.5"/><circle cx="169.62" cy="253.12" r="0.5"/><circle cx="153.99" cy="255.79" r="0.5"/><circle cx="155.20" cy="258.17" r="0.5"/><circle cx="163.78" cy="255.78" r="0.5"/><circle cx="163.63" cy="253.80" r="0.5"/><circle cx="158.03" cy="257.58" r="0.5"/><circle cx="156.56" cy="261.58" r="0.5"/><circle cx="155.06" cy="261.58" r="0.5"/><circle cx="160.00" cy="251.18" r="0.5"/><circle cx="178.48" cy="256.46" r="0.5"/><circle cx="179.28" cy="256.20" r="0.5"/><circle cx="176.11" cy="256.25" r="0.5"/><circle cx="155.88" cy="258.18" r="0.5"/><circle cx="177.35" cy="256.81" r="0.5"/><circle cx="166.66" cy="255.69" r="0.5"/><circle cx="163.81" cy="258.91" r="0.5"/><circle cx="162.22" cy="255.78" r="0.5"/><circle cx="162.17" cy="254.42" r="0.5"/><circle cx="175.33" cy="258.98" r="0.5"/><circle cx="160.37" cy="254.18" r="0.5"/><circle cx="155.55" cy="253.03" r="0.5"/><circle cx="173.12" cy="257.41" r="0.5"/><circle cx="161.67" cy="252.34" r="0.5"/><circle cx="156.87" cy="252.31" r="0.5"/><circle cx="170.35" cy="253.21" r="0.5"/><circle cx="164.96" cy="255.29" r="0.5"/><circle cx="154.94" cy="258.85" r="0.5"/><circle cx="178.69" cy="254.49" r="0.5"/><circle cx="177.83" cy="253.42" r="0.5"/><circle cx="160.93" cy="252.89" r="0.5"/><circle cx="160.17" cy="257.35" r="0.5"/><circle cx="175.05" cy="258.79" r="0.5"/><circle cx="157.07" cy="259.24" r="0.5"/><circle cx="169.57" cy="254.67" r="0.5"/><circle cx="170.40" cy="255.31" r="0.5"/><circle cx="160.28" cy="254.86" r="0.5"/><circle cx="175.18" cy="258.64" r="0.5"/><circle cx="184.16" cy="252.49" r="0.5"/><circle cx="158.21" cy="259.36" r="0.5"/><circle cx="183.64" cy="251.64" r="0.5"/><circle cx="163.39" cy="260.29" r="0.5"/><circle cx="158.45" cy="252.74" r="0.5"/><circle cx="181.32" cy="255.18" r="0.5"/><circle cx="164.14" cy="255.43" r="0.5"/><circle cx="184.60" cy="253.20" r="0.5"/><circle cx="154.21" cy="261.40" r="0.5"/><circle cx="164.18" cy="254.75" r="0.5"/><circle cx="156.46" cy="260.68" r="0.5"/><circle cx="161.75" cy="252.81" r="0.5"/><circle cx="184.92" cy="252.91" r="0.5"/><circle cx="183.70" cy="254.13" r="0.5"/><circle cx="163.73" cy="252.75" r="0.5"/><circle cx="171.71" cy="256.81" r="0.5"/><circle cx="166.90" cy="256.19" r="0.5"/><circle cx="163.56" cy="260.08" r="0.5"/><circle cx="180.98" cy="251.03" r="0.5"/><circle cx="161.96" cy="252.60" r="0.5"/><circle cx="172.23" cy="251.57" r="0.5"/><circle cx="167.86" cy="250.86" r="0.5"/><circle cx="183.82" cy="253.33" r="0.5"/><circle cx="160.30" cy="261.09" r="0.5"/><circle cx="163.99" cy="258.04" r="0.5"/><circle cx="157.16" cy="260.80" r="0.5"/><circle cx="166.91" cy="254.27" r="0.5"/><circle cx="175.46" cy="257.20" r="0.5"/><circle cx="161.98" cy="251.67" r="0.5"/><circle cx="182.71" cy="254.26" r="0.5"/><circle cx="159.26" cy="254.07" r="0.5"/><circle cx="157.40" cy="253.94" r="0.5"/><circle cx="171.74" cy="255.00" r="0.5"/><circle cx="164.76" cy="253.63" r="0.5"/><circle cx="169.85" cy="259.39" r="0.5"/><circle cx="168.22" cy="259.26" r="0.5"/><circle cx="169.72" cy="251.62" r="0.5"/><circle cx="159.29" cy="260.20" r="0.5"/><circle cx="169.61" cy="254.71" r="0.5"/><circle cx="170.82" cy="260.19" r="0.5"/><circle cx="166.14" cy="254.47" r="0.5"/><circle cx="165.82" cy="250.33" r="0.5"/><circle cx="171.80" cy="255.85" r="0.5"/><circle cx="170.16" cy="255.53" r="0.5"/><circle cx="169.38" cy="258.64" r="0.5"/><circle cx="157.43" cy="260.42" r="0.5"/><circle cx="159.45" cy="259.58" r="0.5"/><circle cx="162.30" cy="251.12" r="0.5"/><circle cx="171.66" cy="260.10" r="0.5"/><circle cx="166.26" cy="251.46" r="0.5"/><circle cx="178.82" cy="255.53" r="0.5"/><circle cx="156.29" cy="260.71" r="0.5"/><circle cx="156.64" cy="251.21" r="0.5"/><circle cx="181.33" cy="253.51" r="0.5"/><circle cx="160.64" cy="258.65" r="0.5"/><circle cx="154.86" cy="256.23" r="0.5"/><circle cx="184.91" cy="252.73" r="0.5"/><circle cx="177.14" cy="258.98" r="0.5"/><circle cx="174.31" cy="259.24" r="0.5"/><circle cx="160.01" cy="256.53" r="0.5"/><circle cx="185.99" cy="252.76" r="0.5"/><circle cx="173.20" cy="251.71" r="0.5"/><circle cx="181.88" cy="255.45" r="0.5"/><circle cx="171.03" cy="258.10" r="0.5"/><circle cx="158.16" cy="258.80" r="0.5"/><circle cx="163.00" cy="252.96" r="0.5"/><circle cx="159.11" cy="260.81" r="0.5"/><circle cx="168.23" cy="254.80" r="0.5"/><circle cx="170.98" cy="258.44" r="0.5"/><circle cx="164.22" cy="254.17" r="0.5"/><circle cx="163.49" cy="251.07" r="0.5"/><circle cx="173.45" cy="254.97" r="0.5"/><circle cx="160.83" cy="251.38" r="0.5"/><circle cx="165.32" cy="257.29" r="0.5"/><circle cx="175.30" cy="255.61" r="0.5"/><circle cx="175.65" cy="257.30" r="0.5"/><circle cx="174.23" cy="256.04" r="0.5"/><circle cx="171.07" cy="256.00" r="0.5"/><circle cx="181.37" cy="252.46" r="0.5"/><circle cx="179.83" cy="253.72" r="0.5"/><circle cx="181.95" cy="251.06" r="0.5"/><circle cx="169.80" cy="255.43" r="0.5"/><circle cx="177.37" cy="252.59" r="0.5"/><circle cx="162.37" cy="251.77" r="0.5"/><circle cx="172.35" cy="257.00" r="0.5"/><circle cx="168.80" cy="256.87" r="0.5"/><circle cx="163.27" cy="257.98" r="0.5"/><circle cx="179.98" cy="253.96" r="0.5"/><circle cx="163.40" cy="257.58" r="0.5"/><circle cx="173.13" cy="256.06" r="0.5"/><circle cx="165.06" cy="250.96" r="0.5"/><circle cx="172.07" cy="254.49" r="0.5"/><circle cx="171.52" cy="254.30" r="0.5"/><circle cx="158.87" cy="251.31" r="0.5"/><circle cx="161.57" cy="258.59" r="0.5"/><circle cx="178.69" cy="252.90" r="0.5"/><circle cx="163.15" cy="253.14" r="0.5"/><circle cx="172.95" cy="251.96" r="0.5"/><circle cx="167.92" cy="258.48" r="0.5"/><circle cx="155.53" cy="261.07" r="0.5"/><circle cx="176.93" cy="257.49" r="0.5"/><circle cx="163.81" cy="251.65" r="0.5"/><circle cx="159.62" cy="259.62" r="0.5"/><circle cx="156.78" cy="258.98" r="0.5"/><circle cx="166.84" cy="260.56" r="0.5"/><circle cx="181.82" cy="250.70" r="0.5"/><circle cx="162.47" cy="254.55" r="0.5"/><circle cx="167.94" cy="258.11" r="0.5"/><circle cx="165.51" cy="256.19" r="0.5"/><circle cx="165.95" cy="254.39" r="0.5"/><circle cx="174.12" cy="252.89" r="0.5"/><circle cx="175.27" cy="255.93" r="0.5"/><circle cx="160.11" cy="256.93" r="0.5"/><circle cx="159.12" cy="259.96" r="0.5"/><circle cx="178.97" cy="254.83" r="0.5"/><circle cx="160.49" cy="257.90" r="0.5"/><circle cx="160.64" cy="259.14" r="0.5"/><circle cx="172.78" cy="259.94" r="0.5"/><circle cx="165.51" cy="253.78" r="0.5"/><circle cx="166.23" cy="256.82" r="0.5"/></g>
<g fill="#2440d0" fill-opacity="0.7"><circle cx="164.43" cy="266.78" r="0.5"/><circle cx="169.97" cy="266.65" r="0.5"/><circle cx="164.58" cy="268.41" r="0.5"/><circle cx="166.09" cy="269.80" r="0.5"/><circle cx="165.98" cy="267.25" r="0.5"/><circle cx="166.78" cy="263.82" r="0.5"/><circle cx="164.63" cy="266.27" r="0.5"/><circle cx="154.51" cy="276.66" r="0.5"/><circle cx="152.88" cy="271.96" r="0.5"/><circle cx="166.90" cy="267.32" r="0.5"/><circle cx="171.25" cy="268.08" r="0.5"/><circle cx="173.14" cy="268.92" r="0.5"/><circle cx="154.38" cy="279.48" r="0.5"/><circle cx="154.23" cy="266.18" r="0.5"/><circle cx="170.26" cy="263.63" r="0.5"/><circle cx="166.11" cy="267.94" r="0.5"/><circle cx="159.98" cy="269.04" r="0.5"/><circle cx="157.19" cy="264.63" r="0.5"/><circle cx="170.14" cy="264.62" r="0.5"/><circle cx="162.10" cy="265.61" r="0.5"/><circle cx="153.65" cy="274.51" r="0.5"/><circle cx="165.45" cy="267.11" r="0.5"/><circle cx="171.67" cy="265.15" r="0.5"/><circle cx="164.05" cy="264.34" r="0.5"/><circle cx="153.99" cy="277.57" r="0.5"/><circle cx="160.71" cy="262.78" r="0.5"/><circle cx="153.19" cy="263.54" r="0.5"/><circle cx="154.65" cy="266.12" r="0.5"/><circle cx="163.15" cy="263.74" r="0.5"/><circle cx="174.54" cy="266.45" r="0.5"/><circle cx="155.21" cy="265.84" r="0.5"/><circle cx="154.63" cy="278.67" r="0.5"/><circle cx="153.28" cy="279.44" r="0.5"/><circle cx="174.16" cy="267.35" r="0.5"/><circle cx="154.16" cy="266.29" r="0.5"/><circle cx="153.23" cy="266.70" r="0.5"/><circle cx="161.40" cy="266.16" r="0.5"/><circle cx="156.16" cy="266.24" r="0.5"/><circle cx="168.37" cy="265.44" r="0.5"/><circle cx="168.23" cy="265.11" r="0.5"/><circle cx="171.20" cy="264.15" r="0.5"/><circle cx="166.15" cy="268.86" r="0.5"/><circle cx="170.70" cy="267.11" r="0.5"/><circle cx="154.43" cy="279.39" r="0.5"/><circle cx="166.57" cy="266.31" r="0.5"/><circle cx="156.32" cy="263.50" r="0.5"/><circle cx="168.88" cy="267.02" r="0.5"/><circle cx="154.29" cy="272.46" r="0.5"/><circle cx="156.90" cy="262.29" r="0.5"/><circle cx="166.63" cy="268.44" r="0.5"/><circle cx="155.00" cy="264.79" r="0.5"/><circle cx="168.63" cy="264.77" r="0.5"/><circle cx="154.49" cy="276.63" r="0.5"/><circle cx="172.05" cy="267.09" r="0.5"/><circle cx="155.73" cy="268.96" r="0.5"/><circle cx="154.78" cy="262.86" r="0.5"/><circle cx="158.26" cy="267.48" r="0.5"/><circle cx="160.40" cy="270.30" r="0.5"/><circle cx="172.34" cy="266.01" r="0.5"/><circle cx="171.43" cy="268.40" r="0.5"/><circle cx="160.22" cy="263.38" r="0.5"/><circle cx="172.60" cy="269.69" r="0.5"/><circle cx="160.44" cy="264.77" r="0.5"/><circle cx="164.10" cy="268.85" r="0.5"/><circle cx="157.22" cy="264.66" r="0.5"/><circle cx="165.71" cy="263.53" r="0.5"/><circle cx="154.33" cy="277.26" r="0.5"/><circle cx="153.69" cy="269.90" r="0.5"/><circle cx="173.24" cy="267.65" r="0.5"/><circle cx="168.79" cy="265.10" r="0.5"/><circle cx="159.59" cy="265.16" r="0.5"/><circle cx="173.49" cy="268.29" r="0.5"/><circle cx="160.37" cy="264.25" r="0.5"/><circle cx="156.70" cy="269.71" r="0.5"/><circle cx="155.55" cy="264.25" r="0.5"/><circle cx="164.57" cy="268.25" r="0.5"/><circle cx="164.91" cy="265.50" r="0.5"/><circle cx="159.71" cy="267.45" r="0.5"/><circle cx="165.70" cy="266.23" r="0.5"/><circle cx="155.74" cy="261.81" r="0.5"/><circle cx="159.07" cy="266.78" r="0.5"/><circle cx="153.00" cy="273.77" r="0.5"/><circle cx="154.62" cy="271.26" r="0.5"/><circle cx="172.09" cy="269.88" r="0.5"/><circle cx="158.09" cy="268.47" r="0.5"/><circle cx="164.18" cy="266.56" r="0.5"/><circle cx="167.67" cy="266.23" r="0.5"/><circle cx="173.32" cy="268.01" r="0.5"/><circle cx="157.67" cy="262.95" r="0.5"/><circle cx="155.50" cy="265.49" r="0.5"/><circle cx="172.81" cy="269.21" r="0.5"/><circle cx="158.10" cy="267.56" r="0.5"/><circle cx="164.17" cy="266.28" r="0.5"/><circle cx="160.55" cy="265.43" r="0.5"/><circle cx="166.42" cy="269.74" r="0.5"/><circle cx="171.91" cy="270.06" r="0.5"/><circle cx="169.93" cy="267.98" r="0.5"/><circle cx="153.16" cy="269.59" r="0.5"/><circle cx="162.67" cy="268.43" r="0.5"/><circle cx="154.84" cy="272.17" r="0.5"/><circle cx="164.70" cy="266.92" r="0.5"/><circle cx="171.52" cy="269.78" r="0.5"/><circle cx="154.53" cy="266.68" r="0.5"/><circle cx="153.81" cy="269.45" r="0.5"/><circle cx="167.53" cy="264.35" r="0.5"/><circle cx="158.09" cy="265.26" r="0.5"/><circle cx="153.11" cy="270.55" r="0.5"/><circle cx="171.53" cy="268.84" r="0.5"/><circle cx="166.40" cy="266.53" r="0.5"/><circle cx="153.80" cy="271.01" r="0.5"/><circle cx="164.10" cy="264.90" r="0.5"/><circle cx="160.60" cy="265.06" r="0.5"/><circle cx="161.73" cy="267.99" r="0.5"/><circle cx="159.99" cy="265.51" r="0.5"/><circle cx="154.64" cy="272.43" r="0.5"/><circle cx="168.54" cy="267.89" r="0.5"/><circle cx="172.20" cy="267.13" r="0.5"/><circle cx="166.10" cy="268.03" r="0.5"/><circle cx="168.52" cy="265.11" r="0.5"/><circle cx="171.10" cy="263.85" r="0.5"/><circle cx="158.95" cy="265.02" r="0.5"/><circle cx="166.33" cy="270.08" r="0.5"/><circle cx="172.64" cy="269.44" r="0.5"/><circle cx="166.48" cy="269.73" r="0.5"/><circle cx="159.30" cy="270.12" r="0.5"/><circle cx="153.32" cy="266.23" r="0.5"/><circle cx="171.51" cy="263.72" r="0.5"/><circle cx="154.57" cy="277.19" r="0.5"/><circle cx="170.39" cy="265.22" r="0.5"/><circle cx="158.03" cy="265.02" r="0.5"/><circle cx="173.90" cy="266.37" r="0.5"/><circle cx="170.48" cy="267.00" r="0.5"/><circle cx="163.42" cy="263.81" r="0.5"/><circle cx="159.26" cy="262.33" r="0.5"/><circle cx="154.67" cy="266.30" r="0.5"/><circle cx="155.66" cy="268.64" r="0.5"/><circle cx="153.36" cy="267.28" r="0.5"/><circle cx="152.90" cy="266.54" r="0.5"/><circle cx="166.11" cy="266.59" r="0.5"/><circle cx="158.28" cy="263.25" r="0.5"/><circle cx="154.21" cy="266.22" r="0.5"/><circle cx="154.36" cy="278.71" r="0.5"/><circle cx="173.29" cy="267.65" r="0.5"/><circle cx="167.00" cy="268.97" r="0.5"/><circle cx="169.68" cy="267.09" r="0.5"/><circle cx="158.96" cy="266.12" r="0.5"/><circle cx="169.20" cy="269.94" r="0.5"/><circle cx="156.16" cy="268.07" r="0.5"/><circle cx="165.61" cy="268.39" r="0.5"/><circle cx="164.97" cy="263.64" r="0.5"/><circle cx="160.63" cy="265.90" r="0.5"/><circle cx="172.70" cy="268.91" r="0.5"/><circle cx="161.44" cy="265.21" r="0.5"/><circle cx="154.02" cy="267.40" r="0.5"/><circle cx="165.22" cy="267.95" r="0.5"/><circle cx="172.17" cy="269.59" r="0.5"/><circle cx="161.86" cy="264.94" r="0.5"/><circle cx="166.73" cy="266.96" r="0.5"/><circle cx="154.27" cy="271.58" r="0.5"/><circle cx="158.83" cy="265.44" r="0.5"/><circle cx="167.51" cy="269.36" r="0.5"/><circle cx="168.62" cy="264.30" r="0.5"/><circle cx="154.22" cy="264.86" r="0.5"/><circle cx="169.35" cy="267.51" r="0.5"/><circle cx="155.08" cy="266.77" r="0.5"/><circle cx="173.96" cy="267.72" r="0.5"/><circle cx="154.37" cy="265.19" r="0.5"/><circle cx="163.48" cy="264.18" r="0.5"/><circle cx="174.14" cy="268.20" r="0.5"/><circle cx="171.59" cy="269.68" r="0.5"/><circle cx="172.17" cy="268.32" r="0.5"/><circle cx="155.54" cy="266.48" r="0.5"/><circle cx="169.94" cy="264.84" r="0.5"/><circle cx="173.02" cy="266.41" r="0.5"/><circle cx="166.99" cy="266.48" r="0.5"/><circle cx="174.52" cy="266.75" r="0.5"/><circle cx="156.58" cy="270.88" r="0.5"/><circle cx="173.50" cy="265.23" r="0.5"/><circle cx="164.24" cy="270.22" r="0.5"/><circle cx="157.14" cy="269.91" r="0.5"/></g>
<g fill="#ffffff" fill-opacity="0.75"><circle cx="160.43" cy="257.26" r="0.5"/><circle cx="159.46" cy="265.29" r="0.5"/><circle cx="155.78" cy="265.44" r="0.5"/><circle cx="161.07" cy="258.06" r="0.5"/><circle cx="156.18" cy="264.38" r="0.5"/><circle cx="166.92" cy="261.63" r="0.5"/><circle cx="165.95" cy="259.95" r="0.5"/><circle cx="158.73" cy="254.51" r="0.5"/><circle cx="158.65" cy="254.10" r="0.5"/><circle cx="155.49" cy="264.56" r="0.5"/><circle cx="159.22" cy="258.31" r="0.5"/><circle cx="161.52" cy="263.02" r="0.5"/><circle cx="158.64" cy="259.17" r="0.5"/><circle cx="161.59" cy="263.77" r="0.5"/><circle cx="159.85" cy="264.37" r="0.5"/><circle cx="157.10" cy="260.77" r="0.5"/><circle cx="156.59" cy="255.80" r="0.5"/><circle cx="162.50" cy="253.44" r="0.5"/><circle cx="160.45" cy="260.21" r="0.5"/><circle cx="159.66" cy="262.59" r="0.5"/><circle cx="165.16" cy="255.91" r="0.5"/><circle cx="164.13" cy="262.58" r="0.5"/><circle cx="162.15" cy="260.28" r="0.5"/><circle cx="161.81" cy="262.36" r="0.5"/><circle cx="163.29" cy="255.79" r="0.5"/><circle cx="162.80" cy="261.95" r="0.5"/><circle cx="160.55" cy="264.54" r="0.5"/><circle cx="158.77" cy="259.72" r="0.5"/><circle cx="161.82" cy="260.45" r="0.5"/><circle cx="157.21" cy="261.36" r="0.5"/><circle cx="156.39" cy="259.47" r="0.5"/><circle cx="160.41" cy="261.73" r="0.5"/><circle cx="157.76" cy="264.74" r="0.5"/><circle cx="160.67" cy="259.06" r="0.5"/><circle cx="155.49" cy="264.03" r="0.5"/><circle cx="157.74" cy="255.88" r="0.5"/><circle cx="158.66" cy="255.28" r="0.5"/><circle cx="158.47" cy="256.03" r="0.5"/><circle cx="161.39" cy="257.04" r="0.5"/><circle cx="166.18" cy="257.25" r="0.5"/><circle cx="163.19" cy="262.26" r="0.5"/><circle cx="163.70" cy="257.59" r="0.5"/><circle cx="157.31" cy="262.61" r="0.5"/><circle cx="162.88" cy="256.92" r="0.5"/><circle cx="163.00" cy="252.94" r="0.5"/><circle cx="163.29" cy="262.94" r="0.5"/><circle cx="156.70" cy="260.54" r="0.5"/><circle cx="157.27" cy="255.05" r="0.5"/><circle cx="155.34" cy="255.93" r="0.5"/><circle cx="165.19" cy="260.21" r="0.5"/><circle cx="156.82" cy="263.86" r="0.5"/><circle cx="165.75" cy="261.09" r="0.5"/><circle cx="159.01" cy="254.46" r="0.5"/><circle cx="160.27" cy="257.21" r="0.5"/><circle cx="158.13" cy="261.44" r="0.5"/><circle cx="162.62" cy="255.62" r="0.5"/><circle cx="157.07" cy="258.99" r="0.5"/><circle cx="163.53" cy="261.32" r="0.5"/><circle cx="164.09" cy="258.19" r="0.5"/><circle cx="163.95" cy="261.31" r="0.5"/><circle cx="159.09" cy="254.34" r="0.5"/><circle cx="159.53" cy="262.05" r="0.5"/><circle cx="164.01" cy="256.26" r="0.5"/><circle cx="161.50" cy="253.05" r="0.5"/><circle cx="162.18" cy="258.29" r="0.5"/><circle cx="155.63" cy="265.51" r="0.5"/><circle cx="157.06" cy="265.49" r="0.5"/><circle cx="158.50" cy="254.03" r="0.5"/><circle cx="165.92" cy="262.59" r="0.5"/><circle cx="159.32" cy="262.84" r="0.5"/><circle cx="159.27" cy="256.61" r="0.5"/><circle cx="160.11" cy="261.80" r="0.5"/><circle cx="158.80" cy="259.84" r="0.5"/><circle cx="161.81" cy="263.12" r="0.5"/><circle cx="160.64" cy="257.89" r="0.5"/><circle cx="161.67" cy="258.45" r="0.5"/><circle cx="163.78" cy="253.50" r="0.5"/><circle cx="159.96" cy="263.88" r="0.5"/><circle cx="162.20" cy="260.91" r="0.5"/><circle cx="158.52" cy="255.11" r="0.5"/><circle cx="161.45" cy="255.21" r="0.5"/><circle cx="162.16" cy="253.11" r="0.5"/><circle cx="159.69" cy="262.11" r="0.5"/><circle cx="158.06" cy="254.09" r="0.5"/><circle cx="163.98" cy="254.71" r="0.5"/><circle cx="165.82" cy="260.58" r="0.5"/><circle cx="165.67" cy="259.45" r="0.5"/><circle cx="160.87" cy="255.61" r="0.5"/><circle cx="155.70" cy="265.35" r="0.5"/><circle cx="166.19" cy="259.52" r="0.5"/></g>
<g fill="#ffffff" fill-opacity="0.7"><circle cx="164.78" cy="266.56" r="0.5"/><circle cx="159.40" cy="268.94" r="0.5"/><circle cx="164.17" cy="266.35" r="0.5"/><circle cx="159.00" cy="268.05" r="0.5"/><circle cx="156.71" cy="269.83" r="0.5"/><circle cx="163.89" cy="265.91" r="0.5"/><circle cx="162.96" cy="268.55" r="0.5"/><circle cx="165.50" cy="267.73" r="0.5"/><circle cx="164.72" cy="266.40" r="0.5"/><circle cx="157.30" cy="268.97" r="0.5"/><circle cx="158.89" cy="270.61" r="0.5"/><circle cx="161.95" cy="269.33" r="0.5"/><circle cx="165.31" cy="265.80" r="0.5"/><circle cx="157.21" cy="269.86" r="0.5"/><circle cx="165.83" cy="267.60" r="0.5"/><circle cx="165.61" cy="269.17" r="0.5"/><circle cx="160.48" cy="269.07" r="0.5"/><circle cx="161.28" cy="268.64" r="0.5"/><circle cx="157.37" cy="269.76" r="0.5"/><circle cx="163.92" cy="267.43" r="0.5"/><circle cx="160.82" cy="270.53" r="0.5"/><circle cx="161.66" cy="270.19" r="0.5"/><circle cx="165.54" cy="267.21" r="0.5"/><circle cx="159.84" cy="269.09" r="0.5"/><circle cx="161.36" cy="270.27" r="0.5"/></g>
<ellipse cx="179.2" cy="255.6" rx="7.0" ry="2.4" fill="#24bfe6" fill-opacity="0.9" transform="rotate(-24 179.2 255.6)"/>
<ellipse cx="169.4" cy="267.5" rx="5.0" ry="2.7" fill="#24bfe6" fill-opacity="0.85" transform="rotate(-5 169.4 267.5)"/>
<ellipse cx="178.2" cy="256.4" rx="3.8" ry="1.5" fill="#3ad63a" stroke="#1d5e2a" stroke-width="0.8" transform="rotate(-25 178.2 256.4)"/>
<ellipse cx="169.2" cy="267.7" rx="2.8" ry="1.8" fill="#48dc3a" stroke="#1d5e2a" stroke-width="0.9" transform="rotate(-8 169.2 267.7)"/>
<path d="M152.60,280.00 L152.80,264.00 L153.40,256.00 L154.60,252.50 L155.20,256.00 L154.60,265.00 L154.30,280.00 Z" fill="#3050c8" fill-opacity="0.8" />
<text x="166.00" y="241.80" font-size="5.8" fill="#262626" stroke="#262626" stroke-width="0.27" textLength="25.50" lengthAdjust="spacingAndGlyphs" >1301 cells</text>
<text x="163.10" y="282.00" font-size="5.8" fill="#262626" stroke="#262626" stroke-width="0.27" textLength="18.60" lengthAdjust="spacingAndGlyphs" >HLA-A2</text>
<text x="182.00" y="279.20" font-size="3.6" fill="#262626" stroke="#262626" stroke-width="0.15" >+</text>
<text x="158.20" y="288.50" font-size="5.8" fill="#262626" stroke="#262626" stroke-width="0.27" textLength="29.60" lengthAdjust="spacingAndGlyphs" >granulocytes</text>
<text x="239.60" y="17.80" font-size="12" fill="#000" stroke="#000" stroke-width="0.6" textLength="7.90" lengthAdjust="spacingAndGlyphs" font-weight="bold" >B</text>
<line x1="313.20" y1="13.30" x2="313.20" y2="247.00" stroke="#000" stroke-width="1.3" />
<line x1="312.50" y1="246.20" x2="482.60" y2="246.20" stroke="#000" stroke-width="1.8" />
<line x1="310.20" y1="246.20" x2="313.20" y2="246.20" stroke="#000" stroke-width="1.2" />
<text x="288.00" y="248.90" font-size="7.3" fill="#262626" stroke="#262626" stroke-width="0.06" textLength="18.80" lengthAdjust="spacingAndGlyphs" >0.0%</text>
<line x1="310.20" y1="223.20" x2="313.20" y2="223.20" stroke="#000" stroke-width="1.2" />
<text x="288.00" y="225.90" font-size="7.3" fill="#262626" stroke="#262626" stroke-width="0.06" textLength="18.80" lengthAdjust="spacingAndGlyphs" >2.0%</text>
<line x1="310.20" y1="200.20" x2="313.20" y2="200.20" stroke="#000" stroke-width="1.2" />
<text x="288.00" y="202.90" font-size="7.3" fill="#262626" stroke="#262626" stroke-width="0.06" textLength="18.80" lengthAdjust="spacingAndGlyphs" >4.0%</text>
<line x1="310.20" y1="177.20" x2="313.20" y2="177.20" stroke="#000" stroke-width="1.2" />
<text x="288.00" y="179.90" font-size="7.3" fill="#262626" stroke="#262626" stroke-width="0.06" textLength="18.80" lengthAdjust="spacingAndGlyphs" >6.0%</text>
<line x1="310.20" y1="154.20" x2="313.20" y2="154.20" stroke="#000" stroke-width="1.2" />
<text x="288.00" y="156.90" font-size="7.3" fill="#262626" stroke="#262626" stroke-width="0.06" textLength="18.80" lengthAdjust="spacingAndGlyphs" >8.0%</text>
<line x1="310.20" y1="131.20" x2="313.20" y2="131.20" stroke="#000" stroke-width="1.2" />
<text x="283.30" y="133.90" font-size="7.3" fill="#262626" stroke="#262626" stroke-width="0.06" textLength="23.50" lengthAdjust="spacingAndGlyphs" >10.0%</text>
<line x1="310.20" y1="108.20" x2="313.20" y2="108.20" stroke="#000" stroke-width="1.2" />
<text x="283.30" y="110.90" font-size="7.3" fill="#262626" stroke="#262626" stroke-width="0.06" textLength="23.50" lengthAdjust="spacingAndGlyphs" >12.0%</text>
<line x1="310.20" y1="85.20" x2="313.20" y2="85.20" stroke="#000" stroke-width="1.2" />
<text x="283.30" y="87.90" font-size="7.3" fill="#262626" stroke="#262626" stroke-width="0.06" textLength="23.50" lengthAdjust="spacingAndGlyphs" >14.0%</text>
<line x1="310.20" y1="62.20" x2="313.20" y2="62.20" stroke="#000" stroke-width="1.2" />
<text x="283.30" y="64.90" font-size="7.3" fill="#262626" stroke="#262626" stroke-width="0.06" textLength="23.50" lengthAdjust="spacingAndGlyphs" >16.0%</text>
<line x1="310.20" y1="39.20" x2="313.20" y2="39.20" stroke="#000" stroke-width="1.2" />
<text x="283.30" y="41.90" font-size="7.3" fill="#262626" stroke="#262626" stroke-width="0.06" textLength="23.50" lengthAdjust="spacingAndGlyphs" >18.0%</text>
<line x1="310.20" y1="16.20" x2="313.20" y2="16.20" stroke="#000" stroke-width="1.2" />
<text x="283.30" y="18.90" font-size="7.3" fill="#262626" stroke="#262626" stroke-width="0.06" textLength="23.50" lengthAdjust="spacingAndGlyphs" >20.0%</text>
<text x="0.00" y="0.00" font-size="7.3" fill="#262626" stroke="#262626" stroke-width="0.3" textLength="74.00" lengthAdjust="spacingAndGlyphs" transform="translate(276.0,166.8) rotate(-90)">Relative telomere length</text>
<polyline points="341.60,135.80 397.90,143.85 454.70,110.50" fill="none" stroke="#22385e" stroke-width="1.7" stroke-linejoin="round"/>
<circle cx="341.60" cy="135.80" r="2.5" fill="#22385e"/>
<circle cx="397.90" cy="143.85" r="2.5" fill="#22385e"/>
<circle cx="454.70" cy="110.50" r="2.5" fill="#22385e"/>
<polyline points="341.60,128.90 397.90,125.45 454.70,113.95" fill="none" stroke="#7cb0e2" stroke-width="1.7" stroke-linejoin="round"/>
<circle cx="341.60" cy="128.90" r="2.5" fill="#7cb0e2"/>
<circle cx="397.90" cy="125.45" r="2.5" fill="#7cb0e2"/>
<circle cx="454.70" cy="113.95" r="2.5" fill="#7cb0e2"/>
<polyline points="341.60,128.90 397.90,133.50 454.70,108.20" fill="none" stroke="#3f1f5e" stroke-width="1.7" stroke-linejoin="round"/>
<circle cx="341.60" cy="128.90" r="2.5" fill="#3f1f5e"/>
<circle cx="397.90" cy="133.50" r="2.5" fill="#3f1f5e"/>
<circle cx="454.70" cy="108.20" r="2.5" fill="#3f1f5e"/>
<polyline points="341.60,120.85 397.90,111.65 454.70,66.80" fill="none" stroke="#a3143a" stroke-width="1.7" stroke-linejoin="round"/>
<circle cx="341.60" cy="120.85" r="2.5" fill="#a3143a"/>
<circle cx="397.90" cy="111.65" r="2.5" fill="#a3143a"/>
<circle cx="454.70" cy="66.80" r="2.5" fill="#a3143a"/>
<polyline points="341.60,104.75 397.90,105.90 454.70,62.20" fill="none" stroke="#6aa242" stroke-width="1.7" stroke-linejoin="round"/>
<circle cx="341.60" cy="104.75" r="2.5" fill="#6aa242"/>
<circle cx="397.90" cy="105.90" r="2.5" fill="#6aa242"/>
<circle cx="454.70" cy="62.20" r="2.5" fill="#6aa242"/>
<text x="332.00" y="256.60" font-size="7.9" fill="#262626" stroke="#262626" stroke-width="0.15" textLength="15.20" lengthAdjust="spacingAndGlyphs" >HLA</text>
<text x="347.30" y="253.40" font-size="4.6" fill="#262626" stroke="#262626" stroke-width="0.15" >−</text>
<text x="318.95" y="266.20" font-size="7.6" fill="#262626" stroke="#262626" stroke-width="0.15" textLength="45.50" lengthAdjust="spacingAndGlyphs" >granulocytes</text>
<text x="388.50" y="256.60" font-size="7.9" fill="#262626" stroke="#262626" stroke-width="0.15" textLength="15.20" lengthAdjust="spacingAndGlyphs" >HLA</text>
<text x="403.80" y="253.40" font-size="4.6" fill="#262626" stroke="#262626" stroke-width="0.15" >−</text>
<text x="375.45" y="266.20" font-size="7.6" fill="#262626" stroke="#262626" stroke-width="0.15" textLength="45.50" lengthAdjust="spacingAndGlyphs" >granulocytes</text>
<text x="446.30" y="256.60" font-size="7.6" fill="#262626" stroke="#262626" stroke-width="0.15" textLength="16.60" lengthAdjust="spacingAndGlyphs" >Total</text>
<text x="431.85" y="266.20" font-size="7.6" fill="#262626" stroke="#262626" stroke-width="0.15" textLength="45.50" lengthAdjust="spacingAndGlyphs" >granulocytes</text>
<path d="M340.8,26.4 L340.8,18.4 Q340.8,17.4 341.8,17.4 L455.0,17.4 Q456.0,17.4 456.0,18.4 L456.0,26.4" fill="none" stroke="#000" stroke-width="1.1"/>
<path d="M340.8,50.0 L340.8,43.4 Q340.8,42.4 341.8,42.4 L394.8,42.4 Q395.8,42.4 395.8,43.4 L395.8,50.0" fill="none" stroke="#000" stroke-width="1.1"/>
<path d="M401.2,50.0 L401.2,43.4 Q401.2,42.4 402.2,42.4 L455.0,42.4 Q456.0,42.4 456.0,43.4 L456.0,50.0" fill="none" stroke="#000" stroke-width="1.1"/>
<text x="379.90" y="13.80" font-size="8.3" fill="#262626" stroke="#262626" stroke-width="0.15" font-style="italic" >P</text>
<text x="385.64" y="13.80" font-size="8.3" fill="#262626" stroke="#262626" stroke-width="0.15" textLength="24.26" lengthAdjust="spacingAndGlyphs" >=0.012</text>
<text x="353.20" y="38.80" font-size="8.3" fill="#262626" stroke="#262626" stroke-width="0.15" font-style="italic" >P</text>
<text x="358.94" y="38.80" font-size="8.3" fill="#262626" stroke="#262626" stroke-width="0.15" textLength="24.06" lengthAdjust="spacingAndGlyphs" >=0.943</text>
<text x="414.00" y="38.80" font-size="8.3" fill="#262626" stroke="#262626" stroke-width="0.15" font-style="italic" >P</text>
<text x="419.74" y="38.80" font-size="8.3" fill="#262626" stroke="#262626" stroke-width="0.15" textLength="23.26" lengthAdjust="spacingAndGlyphs" >=0.006</text>
<text x="441.70" y="13.80" font-size="8.3" fill="#262626" stroke="#262626" stroke-width="0.15" font-style="italic" >n</text>
<text x="446.42" y="13.80" font-size="8.3" fill="#262626" stroke="#262626" stroke-width="0.15" textLength="7.98" lengthAdjust="spacingAndGlyphs" >=5</text>
<text x="239.10" y="286.30" font-size="12" fill="#000" stroke="#000" stroke-width="0.6" textLength="8.20" lengthAdjust="spacingAndGlyphs" font-weight="bold" >C</text>
<line x1="238.60" y1="291.90" x2="512.80" y2="291.90" stroke="#000" stroke-width="1.9" />
<line x1="238.60" y1="319.00" x2="512.80" y2="319.00" stroke="#000" stroke-width="1.7" />
<line x1="238.60" y1="414.30" x2="512.80" y2="414.30" stroke="#000" stroke-width="1.7" />
<text x="339.00" y="302.50" font-size="7.7" fill="#262626" stroke="#262626" stroke-width="0.15" textLength="15.20" lengthAdjust="spacingAndGlyphs" >HLA</text>
<text x="354.80" y="299.20" font-size="4.6" fill="#262626" stroke="#262626" stroke-width="0.15" >−</text>
<text x="404.40" y="302.50" font-size="7.7" fill="#262626" stroke="#262626" stroke-width="0.15" textLength="15.20" lengthAdjust="spacingAndGlyphs" >HLA</text>
<text x="420.20" y="299.20" font-size="4.6" fill="#262626" stroke="#262626" stroke-width="0.15" >+</text>
<text x="471.40" y="302.50" font-size="7.7" fill="#262626" stroke="#262626" stroke-width="0.15" textLength="16.80" lengthAdjust="spacingAndGlyphs" >Total</text>
<text x="326.30" y="312.80" font-size="7.7" fill="#262626" stroke="#262626" stroke-width="0.15" textLength="44.50" lengthAdjust="spacingAndGlyphs" >granulocytes</text>
<text x="391.40" y="312.80" font-size="7.7" fill="#262626" stroke="#262626" stroke-width="0.15" textLength="45.60" lengthAdjust="spacingAndGlyphs" >granulocytes</text>
<text x="456.80" y="312.80" font-size="7.7" fill="#262626" stroke="#262626" stroke-width="0.15" textLength="45.60" lengthAdjust="spacingAndGlyphs" >granulocytes</text>
<circle cx="248.3" cy="327.90" r="2.5" fill="#26406c"/>
<text x="254.60" y="330.40" font-size="8.0" fill="#262626" stroke="#262626" stroke-width="0.15" textLength="51.00" lengthAdjust="spacingAndGlyphs" >Case 1 (84/F)</text>
<text x="338.94" y="330.40" font-size="8.0" fill="#262626" stroke="#262626" stroke-width="0.15" textLength="19.33" lengthAdjust="spacingAndGlyphs" >9.6%</text>
<text x="404.54" y="330.40" font-size="8.0" fill="#262626" stroke="#262626" stroke-width="0.15" textLength="19.33" lengthAdjust="spacingAndGlyphs" >8.9%</text>
<text x="467.89" y="330.40" font-size="8.0" fill="#262626" stroke="#262626" stroke-width="0.15" textLength="23.41" lengthAdjust="spacingAndGlyphs" >11.8%</text>
<circle cx="248.3" cy="347.20" r="2.5" fill="#a3143a"/>
<text x="254.60" y="349.70" font-size="8.0" fill="#262626" stroke="#262626" stroke-width="0.15" textLength="50.50" lengthAdjust="spacingAndGlyphs" >Case 5(44/M)</text>
<text x="336.58" y="349.70" font-size="8.0" fill="#262626" stroke="#262626" stroke-width="0.15" textLength="24.04" lengthAdjust="spacingAndGlyphs" >10.9%</text>
<text x="402.49" y="349.70" font-size="8.0" fill="#262626" stroke="#262626" stroke-width="0.15" textLength="23.41" lengthAdjust="spacingAndGlyphs" >11.7%</text>
<text x="467.58" y="349.70" font-size="8.0" fill="#262626" stroke="#262626" stroke-width="0.15" textLength="24.04" lengthAdjust="spacingAndGlyphs" >15.6%</text>
<circle cx="248.3" cy="366.50" r="2.5" fill="#3f1f5e"/>
<text x="254.60" y="369.00" font-size="8.0" fill="#262626" stroke="#262626" stroke-width="0.15" >Case 8 (74/F)</text>
<text x="336.58" y="369.00" font-size="8.0" fill="#262626" stroke="#262626" stroke-width="0.15" textLength="24.04" lengthAdjust="spacingAndGlyphs" >10.2%</text>
<text x="404.54" y="369.00" font-size="8.0" fill="#262626" stroke="#262626" stroke-width="0.15" textLength="19.33" lengthAdjust="spacingAndGlyphs" >9.8%</text>
<text x="467.58" y="369.00" font-size="8.0" fill="#262626" stroke="#262626" stroke-width="0.15" textLength="24.04" lengthAdjust="spacingAndGlyphs" >12.0%</text>
<circle cx="248.3" cy="385.70" r="2.5" fill="#7cb0e2"/>
<text x="254.60" y="388.20" font-size="8.0" fill="#262626" stroke="#262626" stroke-width="0.15" textLength="52.30" lengthAdjust="spacingAndGlyphs" >Case 9 (27/M)</text>
<text x="336.58" y="388.20" font-size="8.0" fill="#262626" stroke="#262626" stroke-width="0.15" textLength="24.04" lengthAdjust="spacingAndGlyphs" >10.2%</text>
<text x="402.18" y="388.20" font-size="8.0" fill="#262626" stroke="#262626" stroke-width="0.15" textLength="24.04" lengthAdjust="spacingAndGlyphs" >10.5%</text>
<text x="467.89" y="388.20" font-size="8.0" fill="#262626" stroke="#262626" stroke-width="0.15" textLength="23.41" lengthAdjust="spacingAndGlyphs" >11.5%</text>
<circle cx="248.3" cy="404.50" r="2.5" fill="#6aa242"/>
<text x="254.60" y="407.00" font-size="8.0" fill="#262626" stroke="#262626" stroke-width="0.15" textLength="57.90" lengthAdjust="spacingAndGlyphs" >Case 11 (54/M)</text>
<text x="336.58" y="407.00" font-size="8.0" fill="#262626" stroke="#262626" stroke-width="0.15" textLength="24.04" lengthAdjust="spacingAndGlyphs" >12.3%</text>
<text x="402.18" y="407.00" font-size="8.0" fill="#262626" stroke="#262626" stroke-width="0.15" textLength="24.04" lengthAdjust="spacingAndGlyphs" >12.2%</text>
<text x="467.58" y="407.00" font-size="8.0" fill="#262626" stroke="#262626" stroke-width="0.15" textLength="24.04" lengthAdjust="spacingAndGlyphs" >16.0%</text>
</svg>
</body></html>
